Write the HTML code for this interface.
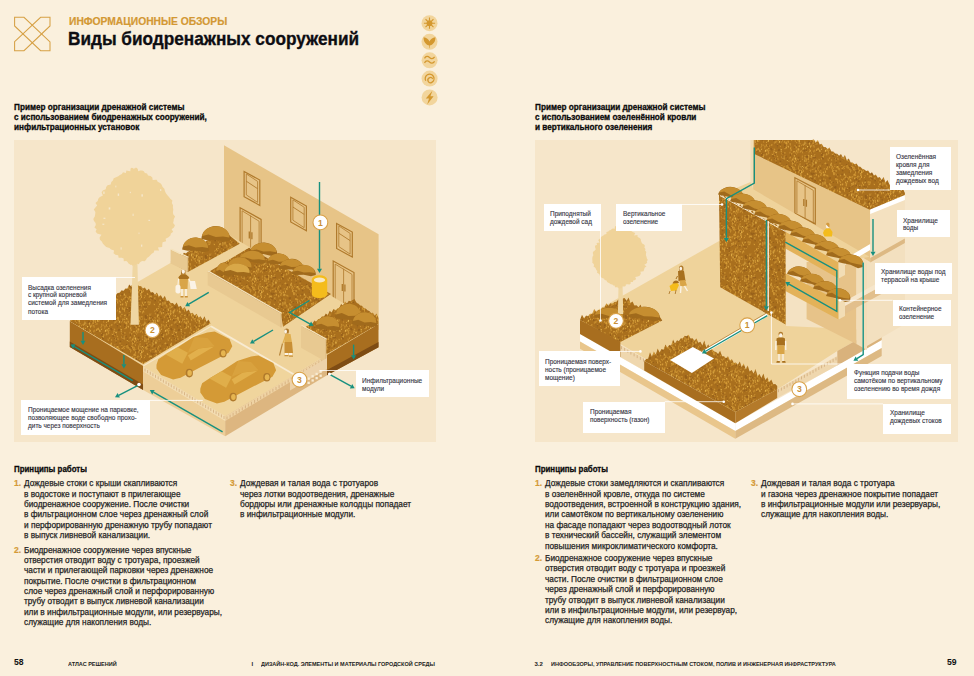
<!DOCTYPE html>
<html><head><meta charset="utf-8">
<style>
html,body{margin:0;padding:0;}
body{width:974px;height:676px;overflow:hidden;background:#FAF0DD;position:relative;font-family:"Liberation Sans",sans-serif;}
.t{position:absolute;white-space:nowrap;transform-origin:0 0;}
.box{position:absolute;background:#F6E6CA;}
</style></head><body>
<div class="box" style="left:13.5px;top:140px;width:422.5px;height:301.5px"></div>
<div class="box" style="left:535px;top:140px;width:423px;height:301.5px"></div>
<svg style="position:absolute;left:0;top:0" width="974" height="676" viewBox="0 0 974 676">
<defs>
<pattern id="grass" patternUnits="userSpaceOnUse" width="60" height="60"><rect width="60" height="60" fill="#A96F1D"/><path d="M34.2,37.9l-0.3,-2.1" stroke="#DCA33A" stroke-width="1.0"/><path d="M54.5,11.2l0.1,-1.8" stroke="#D09632" stroke-width="1.1"/><path d="M31.7,26.7l0.2,-2.3" stroke="#D09632" stroke-width="0.8"/><path d="M29.8,3.2l0.3,-1.8" stroke="#D09632" stroke-width="1.0"/><path d="M55.7,33.3l-0.5,-1.9" stroke="#D09632" stroke-width="1.1"/><path d="M17.1,12.8l0.3,-2.2" stroke="#D09632" stroke-width="0.8"/><path d="M14.6,16.4l0.0,-0.8" stroke="#D09632" stroke-width="0.8"/><path d="M11.1,6.6l0.4,-0.9" stroke="#DCA33A" stroke-width="0.9"/><path d="M7.4,8.9l-0.2,-1.0" stroke="#D09632" stroke-width="0.7"/><path d="M12.2,11.6l-0.1,-1.8" stroke="#D09632" stroke-width="0.8"/><path d="M32.3,47.1l-0.5,-1.3" stroke="#D09632" stroke-width="0.8"/><path d="M46.8,6.7l-0.6,-2.2" stroke="#D09632" stroke-width="0.8"/><path d="M18.9,53.3l-0.4,-1.9" stroke="#D09632" stroke-width="0.9"/><path d="M2.0,5.2l0.3,-1.8" stroke="#D09632" stroke-width="0.8"/><path d="M62.0,5.2l0.3,-1.8" stroke="#D09632" stroke-width="0.8"/><path d="M30.4,15.6l0.6,-2.2" stroke="#D09632" stroke-width="0.6"/><path d="M23.8,48.2l-0.5,-1.3" stroke="#D09632" stroke-width="1.0"/><path d="M37.3,17.2l0.3,-1.8" stroke="#E9B94F" stroke-width="1.0"/><path d="M26.0,48.6l0.4,-2.3" stroke="#DCA33A" stroke-width="0.9"/><path d="M30.7,51.0l0.3,-1.8" stroke="#D09632" stroke-width="0.6"/><path d="M16.2,35.0l-0.4,-1.7" stroke="#D09632" stroke-width="1.1"/><path d="M4.3,55.6l0.1,-2.0" stroke="#E9B94F" stroke-width="0.9"/><path d="M0.4,56.3l0.5,-1.5" stroke="#DCA33A" stroke-width="0.7"/><path d="M60.4,56.3l0.5,-1.5" stroke="#DCA33A" stroke-width="0.7"/><path d="M2.4,1.2l0.3,-2.0" stroke="#D09632" stroke-width="0.7"/><path d="M2.4,61.2l0.3,-2.0" stroke="#D09632" stroke-width="0.7"/><path d="M62.4,1.2l0.3,-2.0" stroke="#D09632" stroke-width="0.7"/><path d="M62.4,61.2l0.3,-2.0" stroke="#D09632" stroke-width="0.7"/><path d="M22.0,48.0l0.4,-2.0" stroke="#E9B94F" stroke-width="1.0"/><path d="M50.1,1.0l0.4,-0.8" stroke="#DCA33A" stroke-width="0.8"/><path d="M50.1,61.0l0.4,-0.8" stroke="#DCA33A" stroke-width="0.8"/><path d="M7.7,19.9l-0.0,-1.3" stroke="#D09632" stroke-width="0.7"/><path d="M4.9,12.2l-0.5,-1.0" stroke="#D09632" stroke-width="0.7"/><path d="M48.0,32.7l0.2,-1.5" stroke="#D09632" stroke-width="0.6"/><path d="M4.7,20.2l-0.3,-1.4" stroke="#D09632" stroke-width="1.0"/><path d="M0.5,26.9l-0.3,-1.4" stroke="#DCA33A" stroke-width="0.7"/><path d="M60.5,26.9l-0.3,-1.4" stroke="#DCA33A" stroke-width="0.7"/><path d="M2.5,9.6l-0.2,-2.4" stroke="#D09632" stroke-width="1.1"/><path d="M62.5,9.6l-0.2,-2.4" stroke="#D09632" stroke-width="1.1"/><path d="M38.7,57.4l0.4,-1.3" stroke="#D09632" stroke-width="0.7"/><path d="M38.7,-2.6l0.4,-1.3" stroke="#D09632" stroke-width="0.7"/><path d="M47.7,31.0l-0.1,-2.1" stroke="#DCA33A" stroke-width="0.6"/><path d="M37.4,11.3l0.5,-1.1" stroke="#D09632" stroke-width="1.0"/><path d="M17.0,43.8l0.2,-2.3" stroke="#D09632" stroke-width="0.9"/><path d="M57.1,48.1l-0.1,-1.5" stroke="#D09632" stroke-width="1.0"/><path d="M-2.9,48.1l-0.1,-1.5" stroke="#D09632" stroke-width="1.0"/><path d="M9.5,13.1l-0.4,-0.9" stroke="#D09632" stroke-width="0.8"/><path d="M10.5,25.5l-0.5,-2.0" stroke="#D09632" stroke-width="0.9"/><path d="M54.2,55.1l-0.5,-1.7" stroke="#DCA33A" stroke-width="1.1"/><path d="M54.0,31.9l0.1,-1.4" stroke="#DCA33A" stroke-width="1.1"/><path d="M29.6,30.4l0.0,-1.3" stroke="#D09632" stroke-width="0.7"/><path d="M27.5,54.9l-0.3,-1.2" stroke="#D09632" stroke-width="1.0"/><path d="M18.2,49.6l0.5,-2.3" stroke="#DCA33A" stroke-width="0.7"/><path d="M27.0,49.4l0.1,-1.2" stroke="#DCA33A" stroke-width="1.1"/><path d="M21.0,7.2l-0.2,-0.8" stroke="#D09632" stroke-width="0.7"/><path d="M49.4,39.0l0.4,-1.8" stroke="#D09632" stroke-width="0.9"/><path d="M21.0,17.4l0.3,-1.0" stroke="#E9B94F" stroke-width="0.6"/><path d="M43.0,3.7l-0.2,-1.5" stroke="#E9B94F" stroke-width="0.8"/><path d="M30.6,21.4l-0.3,-1.2" stroke="#D09632" stroke-width="0.6"/><path d="M33.0,44.3l-0.3,-1.9" stroke="#E9B94F" stroke-width="0.6"/><path d="M25.9,20.0l0.6,-1.1" stroke="#DCA33A" stroke-width="0.7"/><path d="M10.6,48.6l-0.2,-1.4" stroke="#D09632" stroke-width="0.8"/><path d="M35.3,18.7l-0.5,-1.7" stroke="#D09632" stroke-width="0.9"/><path d="M19.2,52.1l0.2,-2.3" stroke="#D09632" stroke-width="0.7"/><path d="M37.5,17.3l0.0,-1.1" stroke="#D09632" stroke-width="0.9"/><path d="M45.6,0.7l-0.4,-1.8" stroke="#D09632" stroke-width="1.0"/><path d="M45.6,60.7l-0.4,-1.8" stroke="#D09632" stroke-width="1.0"/><path d="M57.9,18.8l-0.2,-2.0" stroke="#E9B94F" stroke-width="0.7"/><path d="M-2.1,18.8l-0.2,-2.0" stroke="#E9B94F" stroke-width="0.7"/><path d="M39.9,5.0l0.3,-1.7" stroke="#E9B94F" stroke-width="1.0"/><path d="M33.0,24.0l0.2,-1.8" stroke="#DCA33A" stroke-width="1.0"/><path d="M44.7,56.2l0.5,-1.8" stroke="#DCA33A" stroke-width="0.8"/><path d="M48.1,21.9l0.5,-2.1" stroke="#E9B94F" stroke-width="1.1"/><path d="M41.5,29.9l0.2,-1.3" stroke="#E9B94F" stroke-width="0.8"/><path d="M12.6,45.4l-0.4,-2.3" stroke="#D09632" stroke-width="0.7"/><path d="M33.1,49.9l0.3,-1.2" stroke="#D09632" stroke-width="0.7"/><path d="M32.8,45.5l0.2,-1.6" stroke="#D09632" stroke-width="0.8"/><path d="M31.3,0.1l-0.2,-1.1" stroke="#DCA33A" stroke-width="0.7"/><path d="M31.3,60.1l-0.2,-1.1" stroke="#DCA33A" stroke-width="0.7"/><path d="M14.6,59.4l-0.1,-1.8" stroke="#DCA33A" stroke-width="1.0"/><path d="M14.6,-0.6l-0.1,-1.8" stroke="#DCA33A" stroke-width="1.0"/><path d="M49.0,33.5l-0.5,-1.8" stroke="#D09632" stroke-width="0.8"/><path d="M15.4,21.9l-0.3,-2.2" stroke="#D09632" stroke-width="0.8"/><path d="M10.2,1.4l0.1,-2.3" stroke="#D09632" stroke-width="0.9"/><path d="M10.2,61.4l0.1,-2.3" stroke="#D09632" stroke-width="0.9"/><path d="M10.4,29.0l0.6,-2.3" stroke="#D09632" stroke-width="1.0"/><path d="M29.6,4.8l0.4,-1.4" stroke="#DCA33A" stroke-width="1.0"/><path d="M59.3,22.8l0.4,-1.9" stroke="#E9B94F" stroke-width="1.0"/><path d="M-0.7,22.8l0.4,-1.9" stroke="#E9B94F" stroke-width="1.0"/><path d="M52.4,20.4l0.1,-1.4" stroke="#D09632" stroke-width="0.8"/><path d="M22.3,12.3l0.2,-1.1" stroke="#D09632" stroke-width="0.6"/><path d="M47.9,56.8l0.2,-1.2" stroke="#D09632" stroke-width="0.7"/><path d="M9.9,38.5l0.4,-1.7" stroke="#DCA33A" stroke-width="1.0"/><path d="M52.5,35.0l-0.4,-1.2" stroke="#DCA33A" stroke-width="1.0"/><path d="M38.7,57.1l-0.1,-2.1" stroke="#D09632" stroke-width="0.8"/><path d="M38.7,-2.9l-0.1,-2.1" stroke="#D09632" stroke-width="0.8"/><path d="M55.0,53.3l-0.6,-0.8" stroke="#D09632" stroke-width="1.1"/><path d="M52.7,50.2l-0.4,-0.9" stroke="#DCA33A" stroke-width="0.8"/><path d="M19.2,57.6l-0.0,-0.8" stroke="#E9B94F" stroke-width="1.0"/><path d="M19.2,-2.4l-0.0,-0.8" stroke="#E9B94F" stroke-width="1.0"/><path d="M53.3,16.3l0.6,-1.7" stroke="#D09632" stroke-width="0.8"/><path d="M59.5,9.6l0.3,-2.0" stroke="#D09632" stroke-width="1.1"/><path d="M-0.5,9.6l0.3,-2.0" stroke="#D09632" stroke-width="1.1"/><path d="M46.8,7.9l0.5,-2.4" stroke="#D09632" stroke-width="0.6"/><path d="M47.1,35.1l-0.5,-2.0" stroke="#D09632" stroke-width="1.0"/><path d="M43.7,10.4l-0.1,-1.3" stroke="#D09632" stroke-width="1.1"/><path d="M56.0,0.1l-0.4,-1.8" stroke="#DCA33A" stroke-width="0.9"/><path d="M56.0,60.1l-0.4,-1.8" stroke="#DCA33A" stroke-width="0.9"/><path d="M53.9,54.5l-0.4,-2.3" stroke="#D09632" stroke-width="1.0"/><path d="M27.9,46.6l-0.1,-1.5" stroke="#DCA33A" stroke-width="0.8"/><path d="M29.8,23.9l-0.5,-1.9" stroke="#D09632" stroke-width="0.9"/><path d="M41.1,54.1l0.6,-1.4" stroke="#DCA33A" stroke-width="0.8"/><path d="M33.7,21.7l-0.6,-1.8" stroke="#E9B94F" stroke-width="0.8"/><path d="M0.7,5.2l-0.3,-1.3" stroke="#DCA33A" stroke-width="0.8"/><path d="M60.7,5.2l-0.3,-1.3" stroke="#DCA33A" stroke-width="0.8"/><path d="M55.0,16.7l0.5,-1.4" stroke="#DCA33A" stroke-width="1.1"/><path d="M6.9,4.1l-0.2,-1.9" stroke="#D09632" stroke-width="0.6"/><path d="M19.4,18.6l0.6,-1.9" stroke="#D09632" stroke-width="1.0"/><path d="M35.7,52.0l0.5,-2.4" stroke="#D09632" stroke-width="1.0"/><path d="M46.4,22.8l0.3,-0.9" stroke="#DCA33A" stroke-width="1.0"/><path d="M45.4,44.1l0.5,-0.9" stroke="#E9B94F" stroke-width="0.8"/><path d="M47.1,56.3l-0.2,-1.5" stroke="#DCA33A" stroke-width="1.0"/><path d="M24.8,41.9l-0.2,-2.3" stroke="#E9B94F" stroke-width="0.7"/><path d="M35.6,50.0l-0.3,-1.4" stroke="#D09632" stroke-width="0.8"/><path d="M23.4,24.8l0.1,-1.2" stroke="#D09632" stroke-width="0.7"/><path d="M27.9,54.6l-0.4,-1.2" stroke="#DCA33A" stroke-width="0.9"/><path d="M7.2,58.4l0.2,-1.1" stroke="#D09632" stroke-width="1.0"/><path d="M7.2,-1.6l0.2,-1.1" stroke="#D09632" stroke-width="1.0"/><path d="M22.2,37.7l0.2,-2.1" stroke="#D09632" stroke-width="0.8"/><path d="M35.0,31.5l-0.5,-1.9" stroke="#D09632" stroke-width="0.6"/><path d="M48.3,10.5l-0.1,-2.0" stroke="#E9B94F" stroke-width="0.9"/><path d="M50.8,6.0l-0.1,-2.2" stroke="#D09632" stroke-width="1.0"/><path d="M14.0,39.2l-0.1,-0.8" stroke="#D09632" stroke-width="0.8"/><path d="M49.6,17.3l-0.4,-2.3" stroke="#E9B94F" stroke-width="0.7"/><path d="M40.7,55.8l0.4,-1.9" stroke="#D09632" stroke-width="1.1"/><path d="M2.5,40.6l0.3,-2.1" stroke="#DCA33A" stroke-width="0.9"/><path d="M62.5,40.6l0.3,-2.1" stroke="#DCA33A" stroke-width="0.9"/><path d="M59.2,13.5l0.4,-2.3" stroke="#D09632" stroke-width="0.8"/><path d="M-0.8,13.5l0.4,-2.3" stroke="#D09632" stroke-width="0.8"/><path d="M26.1,8.9l0.4,-2.2" stroke="#DCA33A" stroke-width="0.6"/><path d="M43.8,55.7l0.5,-1.9" stroke="#E9B94F" stroke-width="1.0"/><path d="M44.5,18.1l-0.2,-2.0" stroke="#D09632" stroke-width="0.8"/><path d="M18.5,2.3l-0.3,-1.0" stroke="#D09632" stroke-width="0.6"/><path d="M18.5,62.3l-0.3,-1.0" stroke="#D09632" stroke-width="0.6"/><path d="M44.1,49.5l0.3,-1.3" stroke="#DCA33A" stroke-width="0.6"/><path d="M34.4,35.4l0.5,-1.1" stroke="#DCA33A" stroke-width="0.9"/><path d="M32.2,50.0l0.5,-0.9" stroke="#D09632" stroke-width="0.8"/><path d="M15.6,32.5l0.4,-1.0" stroke="#D09632" stroke-width="1.0"/><path d="M57.2,47.6l-0.3,-1.0" stroke="#DCA33A" stroke-width="1.1"/><path d="M-2.8,47.6l-0.3,-1.0" stroke="#DCA33A" stroke-width="1.1"/><path d="M37.5,21.6l-0.0,-2.1" stroke="#DCA33A" stroke-width="0.8"/><path d="M57.1,36.8l0.2,-1.0" stroke="#D09632" stroke-width="0.7"/><path d="M-2.9,36.8l0.2,-1.0" stroke="#D09632" stroke-width="0.7"/><path d="M29.8,16.0l-0.3,-2.3" stroke="#D09632" stroke-width="0.6"/><path d="M18.2,39.1l0.2,-1.6" stroke="#D09632" stroke-width="0.9"/><path d="M15.4,55.4l-0.6,-1.8" stroke="#DCA33A" stroke-width="0.7"/><path d="M25.0,38.9l-0.4,-2.2" stroke="#D09632" stroke-width="0.9"/><path d="M40.9,27.8l0.6,-1.9" stroke="#D09632" stroke-width="0.8"/><path d="M47.6,48.7l-0.2,-2.3" stroke="#D09632" stroke-width="0.9"/><path d="M49.7,47.9l-0.4,-1.7" stroke="#DCA33A" stroke-width="0.7"/><path d="M1.5,0.1l-0.2,-1.3" stroke="#D09632" stroke-width="0.8"/><path d="M1.5,60.1l-0.2,-1.3" stroke="#D09632" stroke-width="0.8"/><path d="M61.5,0.1l-0.2,-1.3" stroke="#D09632" stroke-width="0.8"/><path d="M61.5,60.1l-0.2,-1.3" stroke="#D09632" stroke-width="0.8"/><path d="M30.7,38.0l0.4,-1.1" stroke="#DCA33A" stroke-width="1.0"/><path d="M33.8,32.4l0.2,-2.1" stroke="#D09632" stroke-width="1.0"/><path d="M11.5,16.5l-0.1,-2.1" stroke="#D09632" stroke-width="1.0"/><path d="M35.8,1.1l-0.2,-1.4" stroke="#D09632" stroke-width="1.0"/><path d="M35.8,61.1l-0.2,-1.4" stroke="#D09632" stroke-width="1.0"/><path d="M13.7,5.0l0.1,-2.2" stroke="#D09632" stroke-width="1.0"/><path d="M40.9,51.1l-0.2,-1.3" stroke="#D09632" stroke-width="0.8"/><path d="M34.6,11.9l0.5,-1.7" stroke="#DCA33A" stroke-width="0.6"/><path d="M28.6,37.8l0.6,-0.9" stroke="#DCA33A" stroke-width="0.9"/><path d="M31.0,38.2l0.1,-1.4" stroke="#D09632" stroke-width="0.8"/><path d="M28.2,3.5l-0.3,-1.8" stroke="#D09632" stroke-width="0.7"/><path d="M45.0,27.3l0.0,-1.7" stroke="#DCA33A" stroke-width="0.8"/><path d="M15.6,46.0l-0.4,-2.0" stroke="#D09632" stroke-width="0.8"/><path d="M47.7,18.6l-0.1,-1.2" stroke="#D09632" stroke-width="0.9"/><path d="M19.1,24.0l0.3,-2.4" stroke="#D09632" stroke-width="0.9"/><path d="M9.1,58.8l0.5,-1.2" stroke="#D09632" stroke-width="0.7"/><path d="M9.1,-1.2l0.5,-1.2" stroke="#D09632" stroke-width="0.7"/><path d="M20.5,19.6l-0.1,-1.4" stroke="#D09632" stroke-width="0.7"/><path d="M37.7,41.5l-0.4,-1.2" stroke="#D09632" stroke-width="0.7"/><path d="M31.0,37.5l0.4,-2.3" stroke="#D09632" stroke-width="0.7"/><path d="M11.8,4.1l0.1,-0.8" stroke="#E9B94F" stroke-width="1.1"/><path d="M1.5,15.0l0.4,-1.4" stroke="#D09632" stroke-width="0.8"/><path d="M61.5,15.0l0.4,-1.4" stroke="#D09632" stroke-width="0.8"/><path d="M52.4,46.9l0.0,-1.1" stroke="#DCA33A" stroke-width="0.7"/><path d="M51.7,40.7l-0.2,-1.4" stroke="#D09632" stroke-width="1.1"/><path d="M11.5,35.2l0.1,-1.9" stroke="#DCA33A" stroke-width="0.7"/><path d="M40.0,12.7l0.3,-1.9" stroke="#D09632" stroke-width="1.0"/><path d="M40.6,0.9l-0.3,-1.1" stroke="#DCA33A" stroke-width="1.0"/><path d="M40.6,60.9l-0.3,-1.1" stroke="#DCA33A" stroke-width="1.0"/><path d="M13.8,55.4l-0.1,-1.1" stroke="#DCA33A" stroke-width="0.7"/><path d="M51.5,2.7l0.4,-1.3" stroke="#DCA33A" stroke-width="0.7"/><path d="M51.5,62.7l0.4,-1.3" stroke="#DCA33A" stroke-width="0.7"/><path d="M29.4,31.7l0.5,-0.8" stroke="#D09632" stroke-width="1.1"/><path d="M41.7,39.4l-0.3,-1.4" stroke="#D09632" stroke-width="1.1"/><path d="M5.7,28.7l0.6,-1.8" stroke="#DCA33A" stroke-width="1.1"/><path d="M42.0,26.1l-0.6,-2.3" stroke="#DCA33A" stroke-width="0.6"/><path d="M5.4,3.0l0.4,-1.5" stroke="#DCA33A" stroke-width="0.9"/><path d="M22.2,17.5l-0.2,-1.5" stroke="#D09632" stroke-width="0.9"/><path d="M5.5,55.8l0.4,-1.0" stroke="#D09632" stroke-width="0.6"/><path d="M57.6,19.7l0.3,-1.4" stroke="#D09632" stroke-width="0.9"/><path d="M-2.4,19.7l0.3,-1.4" stroke="#D09632" stroke-width="0.9"/><path d="M52.1,29.0l-0.4,-0.8" stroke="#DCA33A" stroke-width="0.7"/><path d="M42.4,38.4l0.2,-2.0" stroke="#D09632" stroke-width="1.0"/><path d="M43.3,13.7l0.1,-0.9" stroke="#D09632" stroke-width="0.9"/><path d="M17.5,59.2l-0.1,-1.8" stroke="#D09632" stroke-width="0.7"/><path d="M17.5,-0.8l-0.1,-1.8" stroke="#D09632" stroke-width="0.7"/><path d="M16.4,41.1l0.4,-1.5" stroke="#D09632" stroke-width="1.0"/><path d="M58.2,40.1l-0.3,-2.1" stroke="#D09632" stroke-width="0.8"/><path d="M-1.8,40.1l-0.3,-2.1" stroke="#D09632" stroke-width="0.8"/><path d="M24.1,58.3l0.6,-1.3" stroke="#DCA33A" stroke-width="0.7"/><path d="M24.1,-1.7l0.6,-1.3" stroke="#DCA33A" stroke-width="0.7"/><path d="M26.0,25.8l0.5,-1.5" stroke="#DCA33A" stroke-width="0.8"/><path d="M35.0,20.6l-0.1,-1.0" stroke="#DCA33A" stroke-width="1.0"/><path d="M2.0,38.2l0.2,-2.0" stroke="#E9B94F" stroke-width="0.8"/><path d="M62.0,38.2l0.2,-2.0" stroke="#E9B94F" stroke-width="0.8"/><path d="M10.0,24.1l0.4,-0.8" stroke="#D09632" stroke-width="0.9"/><path d="M30.2,31.6l0.3,-1.4" stroke="#DCA33A" stroke-width="1.1"/><path d="M34.0,28.0l0.6,-1.7" stroke="#D09632" stroke-width="0.6"/><path d="M30.2,51.6l-0.2,-1.0" stroke="#DCA33A" stroke-width="0.9"/><path d="M19.9,45.4l0.2,-2.1" stroke="#DCA33A" stroke-width="0.7"/><path d="M24.8,24.7l-0.1,-1.3" stroke="#E9B94F" stroke-width="1.0"/><path d="M11.4,41.6l-0.3,-1.8" stroke="#D09632" stroke-width="0.7"/><path d="M27.1,44.3l-0.2,-1.4" stroke="#D09632" stroke-width="1.1"/><path d="M15.0,26.5l-0.0,-1.2" stroke="#DCA33A" stroke-width="1.0"/><path d="M34.8,55.8l0.2,-1.3" stroke="#D09632" stroke-width="0.7"/><path d="M23.8,12.4l-0.4,-1.8" stroke="#DCA33A" stroke-width="1.0"/><path d="M1.3,22.7l0.2,-1.8" stroke="#DCA33A" stroke-width="0.6"/><path d="M61.3,22.7l0.2,-1.8" stroke="#DCA33A" stroke-width="0.6"/><path d="M44.8,8.2l0.3,-0.8" stroke="#D09632" stroke-width="0.7"/><path d="M8.5,22.8l-0.6,-1.9" stroke="#D09632" stroke-width="0.8"/><path d="M52.3,25.5l0.1,-1.1" stroke="#D09632" stroke-width="0.6"/><path d="M53.8,33.8l-0.3,-1.4" stroke="#D09632" stroke-width="0.8"/><path d="M25.2,56.6l-0.1,-1.6" stroke="#D09632" stroke-width="0.7"/><path d="M30.1,23.4l-0.2,-1.1" stroke="#DCA33A" stroke-width="0.6"/><path d="M36.4,55.6l-0.1,-1.7" stroke="#DCA33A" stroke-width="1.0"/><path d="M20.2,0.1l-0.1,-2.3" stroke="#D09632" stroke-width="0.6"/><path d="M20.2,60.1l-0.1,-2.3" stroke="#D09632" stroke-width="0.6"/><path d="M13.1,44.0l-0.4,-1.8" stroke="#DCA33A" stroke-width="1.0"/><path d="M5.5,37.0l-0.1,-1.3" stroke="#D09632" stroke-width="0.9"/><path d="M5.4,57.6l0.6,-1.0" stroke="#D09632" stroke-width="0.8"/><path d="M5.4,-2.4l0.6,-1.0" stroke="#D09632" stroke-width="0.8"/><path d="M16.4,59.5l0.6,-1.3" stroke="#D09632" stroke-width="0.7"/><path d="M16.4,-0.5l0.6,-1.3" stroke="#D09632" stroke-width="0.7"/><path d="M22.7,3.9l-0.4,-1.6" stroke="#D09632" stroke-width="0.7"/><path d="M19.4,59.5l0.2,-1.7" stroke="#DCA33A" stroke-width="0.8"/><path d="M19.4,-0.5l0.2,-1.7" stroke="#DCA33A" stroke-width="0.8"/><path d="M39.6,0.9l0.4,-1.6" stroke="#D09632" stroke-width="0.7"/><path d="M39.6,60.9l0.4,-1.6" stroke="#D09632" stroke-width="0.7"/><path d="M55.0,47.1l-0.5,-1.3" stroke="#D09632" stroke-width="0.8"/><path d="M15.7,51.2l0.4,-1.7" stroke="#D09632" stroke-width="1.1"/><path d="M38.2,30.0l0.4,-1.6" stroke="#DCA33A" stroke-width="0.9"/><path d="M10.0,52.9l0.6,-1.9" stroke="#D09632" stroke-width="0.7"/><path d="M3.2,20.0l-0.3,-1.6" stroke="#DCA33A" stroke-width="0.7"/><path d="M55.1,9.2l-0.5,-1.1" stroke="#DCA33A" stroke-width="1.0"/><path d="M41.4,14.4l0.2,-2.1" stroke="#D09632" stroke-width="1.1"/><path d="M45.7,16.2l-0.6,-1.7" stroke="#D09632" stroke-width="0.6"/><path d="M49.1,27.1l0.5,-1.8" stroke="#D09632" stroke-width="0.7"/><path d="M15.8,56.1l-0.5,-1.3" stroke="#D09632" stroke-width="0.8"/><path d="M53.3,13.5l-0.2,-2.0" stroke="#E9B94F" stroke-width="0.9"/><path d="M14.3,19.6l-0.1,-1.7" stroke="#D09632" stroke-width="1.1"/><path d="M2.3,21.5l0.5,-2.0" stroke="#DCA33A" stroke-width="0.8"/><path d="M62.3,21.5l0.5,-2.0" stroke="#DCA33A" stroke-width="0.8"/><path d="M21.6,53.4l0.5,-1.7" stroke="#D09632" stroke-width="1.0"/><path d="M43.7,59.7l0.1,-1.2" stroke="#DCA33A" stroke-width="0.8"/><path d="M43.7,-0.3l0.1,-1.2" stroke="#DCA33A" stroke-width="0.8"/><path d="M7.5,41.1l-0.4,-1.1" stroke="#E9B94F" stroke-width="0.8"/><path d="M57.6,56.5l-0.3,-1.0" stroke="#DCA33A" stroke-width="0.7"/><path d="M-2.4,56.5l-0.3,-1.0" stroke="#DCA33A" stroke-width="0.7"/><path d="M6.1,5.6l0.5,-2.2" stroke="#DCA33A" stroke-width="0.8"/><path d="M14.3,32.0l-0.3,-0.9" stroke="#E9B94F" stroke-width="1.1"/><path d="M22.4,13.5l0.5,-1.8" stroke="#D09632" stroke-width="0.9"/><path d="M39.9,42.9l-0.2,-1.3" stroke="#D09632" stroke-width="0.8"/><path d="M59.4,11.6l0.1,-0.8" stroke="#E9B94F" stroke-width="1.1"/><path d="M-0.6,11.6l0.1,-0.8" stroke="#E9B94F" stroke-width="1.1"/><path d="M8.8,59.9l-0.3,-2.3" stroke="#D09632" stroke-width="0.7"/><path d="M8.8,-0.1l-0.3,-2.3" stroke="#D09632" stroke-width="0.7"/><path d="M29.0,33.3l-0.0,-1.1" stroke="#D09632" stroke-width="0.7"/><path d="M39.1,7.4l-0.4,-1.5" stroke="#D09632" stroke-width="0.9"/><path d="M48.5,31.4l-0.4,-1.0" stroke="#DCA33A" stroke-width="0.9"/><path d="M16.6,23.2l0.1,-1.0" stroke="#D09632" stroke-width="1.0"/><path d="M11.8,21.1l-0.5,-2.3" stroke="#D09632" stroke-width="0.9"/><path d="M37.9,49.7l-0.1,-2.1" stroke="#DCA33A" stroke-width="0.7"/><path d="M47.2,49.9l0.3,-0.8" stroke="#D09632" stroke-width="0.7"/><path d="M8.7,16.1l0.4,-2.1" stroke="#DCA33A" stroke-width="0.8"/><path d="M16.5,12.6l-0.1,-0.9" stroke="#DCA33A" stroke-width="1.0"/><path d="M45.3,52.8l0.3,-1.7" stroke="#DCA33A" stroke-width="0.9"/><path d="M46.4,5.8l-0.3,-0.9" stroke="#D09632" stroke-width="0.8"/><path d="M4.2,39.5l-0.2,-1.8" stroke="#E9B94F" stroke-width="0.7"/><path d="M20.1,58.9l-0.4,-1.2" stroke="#D09632" stroke-width="0.8"/><path d="M20.1,-1.1l-0.4,-1.2" stroke="#D09632" stroke-width="0.8"/><path d="M35.3,21.9l0.2,-1.7" stroke="#D09632" stroke-width="1.1"/><path d="M44.9,4.5l0.3,-2.3" stroke="#DCA33A" stroke-width="1.0"/><path d="M51.0,14.3l0.2,-1.4" stroke="#D09632" stroke-width="1.0"/><path d="M26.1,41.9l-0.2,-1.4" stroke="#DCA33A" stroke-width="0.8"/><path d="M21.9,26.2l-0.2,-1.4" stroke="#D09632" stroke-width="0.9"/><path d="M8.4,22.4l-0.2,-1.8" stroke="#DCA33A" stroke-width="0.7"/><path d="M27.6,27.3l-0.0,-1.3" stroke="#E9B94F" stroke-width="1.1"/><path d="M6.9,48.1l0.0,-1.8" stroke="#D09632" stroke-width="0.7"/><path d="M26.5,8.2l0.5,-2.2" stroke="#E9B94F" stroke-width="0.6"/><path d="M9.7,57.9l-0.3,-1.7" stroke="#DCA33A" stroke-width="0.9"/><path d="M9.7,-2.1l-0.3,-1.7" stroke="#DCA33A" stroke-width="0.9"/><path d="M43.5,52.8l-0.3,-1.2" stroke="#DCA33A" stroke-width="1.1"/><path d="M32.0,36.6l-0.6,-1.6" stroke="#E9B94F" stroke-width="0.9"/><path d="M11.9,5.2l0.4,-1.5" stroke="#DCA33A" stroke-width="1.0"/><path d="M57.5,39.7l-0.4,-1.2" stroke="#D09632" stroke-width="0.8"/><path d="M-2.5,39.7l-0.4,-1.2" stroke="#D09632" stroke-width="0.8"/><path d="M12.9,57.1l-0.4,-0.9" stroke="#D09632" stroke-width="0.9"/><path d="M12.9,-2.9l-0.4,-0.9" stroke="#D09632" stroke-width="0.9"/><path d="M43.2,13.1l0.3,-1.1" stroke="#E9B94F" stroke-width="0.8"/><path d="M54.3,35.9l-0.3,-1.6" stroke="#D09632" stroke-width="0.8"/><path d="M55.0,39.9l0.5,-2.0" stroke="#DCA33A" stroke-width="0.8"/><path d="M11.0,1.3l-0.4,-1.9" stroke="#DCA33A" stroke-width="1.0"/><path d="M11.0,61.3l-0.4,-1.9" stroke="#DCA33A" stroke-width="1.0"/><path d="M9.6,50.0l0.0,-1.3" stroke="#DCA33A" stroke-width="0.6"/><path d="M13.6,15.3l0.5,-2.1" stroke="#D09632" stroke-width="0.7"/><path d="M49.5,17.9l0.6,-1.8" stroke="#DCA33A" stroke-width="0.9"/><path d="M36.6,31.0l-0.1,-1.7" stroke="#DCA33A" stroke-width="1.1"/><path d="M1.7,13.9l0.4,-1.9" stroke="#D09632" stroke-width="0.8"/><path d="M61.7,13.9l0.4,-1.9" stroke="#D09632" stroke-width="0.8"/><path d="M14.2,38.3l-0.3,-0.9" stroke="#DCA33A" stroke-width="0.9"/><path d="M36.1,10.5l0.4,-0.9" stroke="#D09632" stroke-width="0.9"/><path d="M35.3,24.8l0.1,-1.3" stroke="#D09632" stroke-width="0.6"/><path d="M20.4,42.0l-0.3,-1.8" stroke="#D09632" stroke-width="0.8"/><path d="M4.8,9.1l0.2,-2.1" stroke="#D09632" stroke-width="0.8"/><path d="M13.1,3.3l-0.2,-1.2" stroke="#D09632" stroke-width="0.6"/><path d="M47.4,26.8l0.2,-0.8" stroke="#D09632" stroke-width="0.9"/><path d="M26.7,31.7l0.4,-1.4" stroke="#D09632" stroke-width="0.7"/><path d="M33.0,41.9l0.0,-1.2" stroke="#DCA33A" stroke-width="0.7"/><path d="M50.7,20.1l-0.3,-1.6" stroke="#DCA33A" stroke-width="0.9"/><path d="M24.7,20.4l-0.2,-2.0" stroke="#D09632" stroke-width="0.6"/><path d="M52.3,52.0l0.6,-2.1" stroke="#D09632" stroke-width="1.1"/><path d="M37.5,15.7l-0.2,-1.4" stroke="#D09632" stroke-width="0.7"/><path d="M20.7,56.1l-0.0,-0.9" stroke="#DCA33A" stroke-width="1.0"/><path d="M2.1,49.0l0.2,-1.3" stroke="#DCA33A" stroke-width="1.0"/><path d="M62.1,49.0l0.2,-1.3" stroke="#DCA33A" stroke-width="1.0"/><path d="M55.0,45.2l-0.2,-1.0" stroke="#D09632" stroke-width="0.6"/><path d="M15.0,12.7l0.1,-2.4" stroke="#DCA33A" stroke-width="1.1"/><path d="M51.6,44.0l-0.2,-1.4" stroke="#D09632" stroke-width="1.0"/><path d="M18.0,30.6l-0.5,-2.1" stroke="#DCA33A" stroke-width="0.6"/><path d="M15.3,40.3l0.6,-1.9" stroke="#DCA33A" stroke-width="1.0"/><path d="M47.6,13.7l-0.6,-2.4" stroke="#DCA33A" stroke-width="0.8"/><path d="M14.2,19.5l0.5,-2.0" stroke="#D09632" stroke-width="1.0"/><path d="M19.8,51.6l0.2,-2.3" stroke="#D09632" stroke-width="0.7"/><path d="M8.2,48.7l-0.3,-2.1" stroke="#D09632" stroke-width="1.1"/><path d="M49.6,30.6l0.4,-0.8" stroke="#D09632" stroke-width="0.9"/><path d="M11.1,51.2l-0.6,-1.8" stroke="#DCA33A" stroke-width="0.7"/><path d="M46.2,15.5l0.2,-1.7" stroke="#D09632" stroke-width="0.7"/><path d="M22.6,3.8l-0.2,-2.1" stroke="#D09632" stroke-width="0.8"/><path d="M26.2,39.9l-0.5,-1.5" stroke="#D09632" stroke-width="1.1"/><path d="M35.2,23.3l0.3,-1.2" stroke="#DCA33A" stroke-width="0.9"/><path d="M12.4,18.4l-0.1,-2.2" stroke="#DCA33A" stroke-width="0.6"/><path d="M35.1,52.5l0.4,-2.2" stroke="#D09632" stroke-width="0.8"/><path d="M29.5,24.8l-0.1,-1.8" stroke="#E9B94F" stroke-width="1.1"/><path d="M26.4,40.8l0.6,-2.2" stroke="#D09632" stroke-width="0.8"/><path d="M0.6,2.8l-0.4,-1.6" stroke="#D09632" stroke-width="1.0"/><path d="M0.6,62.8l-0.4,-1.6" stroke="#D09632" stroke-width="1.0"/><path d="M60.6,2.8l-0.4,-1.6" stroke="#D09632" stroke-width="1.0"/><path d="M60.6,62.8l-0.4,-1.6" stroke="#D09632" stroke-width="1.0"/><path d="M18.7,30.5l-0.1,-2.3" stroke="#DCA33A" stroke-width="1.1"/><path d="M18.1,14.7l-0.0,-2.0" stroke="#D09632" stroke-width="0.8"/><path d="M39.2,21.3l-0.3,-1.9" stroke="#D09632" stroke-width="0.8"/><path d="M48.8,10.9l-0.5,-1.1" stroke="#DCA33A" stroke-width="1.0"/><path d="M15.9,59.1l-0.0,-1.9" stroke="#D09632" stroke-width="1.0"/><path d="M15.9,-0.9l-0.0,-1.9" stroke="#D09632" stroke-width="1.0"/><path d="M35.7,43.6l0.1,-1.1" stroke="#DCA33A" stroke-width="0.7"/><path d="M17.6,16.0l-0.2,-1.1" stroke="#D09632" stroke-width="0.6"/><path d="M26.0,24.2l-0.3,-1.8" stroke="#E9B94F" stroke-width="0.7"/><path d="M28.7,5.2l-0.2,-1.5" stroke="#D09632" stroke-width="0.7"/><path d="M22.6,39.9l-0.3,-1.3" stroke="#D09632" stroke-width="0.8"/><path d="M13.0,40.6l-0.3,-1.6" stroke="#DCA33A" stroke-width="1.1"/><path d="M30.5,27.5l0.1,-1.8" stroke="#E9B94F" stroke-width="0.9"/><path d="M3.9,37.9l-0.1,-1.8" stroke="#DCA33A" stroke-width="1.0"/><path d="M27.6,16.1l-0.1,-0.9" stroke="#DCA33A" stroke-width="0.6"/><path d="M55.9,35.3l0.0,-1.2" stroke="#DCA33A" stroke-width="0.9"/><path d="M21.6,50.9l0.6,-2.0" stroke="#D09632" stroke-width="0.9"/><path d="M6.1,20.0l0.5,-2.1" stroke="#DCA33A" stroke-width="0.7"/><path d="M18.3,40.1l-0.3,-2.3" stroke="#D09632" stroke-width="0.8"/><path d="M20.3,12.2l-0.3,-1.0" stroke="#E9B94F" stroke-width="1.0"/><path d="M48.5,34.3l-0.1,-1.7" stroke="#D09632" stroke-width="0.7"/><path d="M1.3,32.0l-0.1,-1.4" stroke="#E9B94F" stroke-width="0.6"/><path d="M61.3,32.0l-0.1,-1.4" stroke="#E9B94F" stroke-width="0.6"/><path d="M7.0,46.6l0.1,-1.5" stroke="#DCA33A" stroke-width="1.0"/><path d="M51.8,48.8l0.1,-1.9" stroke="#D09632" stroke-width="0.9"/><path d="M32.8,45.7l0.5,-1.0" stroke="#E9B94F" stroke-width="0.7"/><path d="M55.0,54.2l-0.2,-0.9" stroke="#D09632" stroke-width="1.0"/><path d="M49.9,8.8l0.3,-2.1" stroke="#D09632" stroke-width="1.1"/><path d="M19.6,6.7l0.2,-1.9" stroke="#E9B94F" stroke-width="0.7"/><path d="M11.6,15.7l0.4,-2.3" stroke="#E9B94F" stroke-width="1.0"/><path d="M58.2,48.9l0.3,-1.6" stroke="#D09632" stroke-width="1.0"/><path d="M-1.8,48.9l0.3,-1.6" stroke="#D09632" stroke-width="1.0"/><path d="M2.2,14.7l0.3,-1.1" stroke="#D09632" stroke-width="0.9"/><path d="M62.2,14.7l0.3,-1.1" stroke="#D09632" stroke-width="0.9"/><path d="M56.2,41.8l-0.4,-2.0" stroke="#D09632" stroke-width="0.6"/><path d="M28.3,2.5l0.0,-1.3" stroke="#DCA33A" stroke-width="0.7"/><path d="M28.3,62.5l0.0,-1.3" stroke="#DCA33A" stroke-width="0.7"/><path d="M45.4,31.7l0.3,-1.9" stroke="#E9B94F" stroke-width="1.0"/><path d="M57.5,47.8l0.4,-2.0" stroke="#D09632" stroke-width="0.8"/><path d="M-2.5,47.8l0.4,-2.0" stroke="#D09632" stroke-width="0.8"/><path d="M29.2,57.7l0.4,-2.2" stroke="#D09632" stroke-width="1.0"/><path d="M29.2,-2.3l0.4,-2.2" stroke="#D09632" stroke-width="1.0"/><path d="M41.3,34.3l0.5,-1.2" stroke="#D09632" stroke-width="0.8"/><path d="M39.3,40.2l-0.3,-1.4" stroke="#D09632" stroke-width="1.0"/><path d="M56.4,55.3l0.0,-1.5" stroke="#D09632" stroke-width="0.7"/><path d="M5.3,36.6l-0.4,-1.3" stroke="#D09632" stroke-width="0.8"/><path d="M4.7,58.4l0.1,-1.0" stroke="#E9B94F" stroke-width="0.6"/><path d="M4.7,-1.6l0.1,-1.0" stroke="#E9B94F" stroke-width="0.6"/><path d="M12.6,48.4l0.2,-2.2" stroke="#DCA33A" stroke-width="0.9"/><path d="M48.2,15.1l0.5,-2.1" stroke="#D09632" stroke-width="1.0"/><path d="M6.1,24.1l0.2,-2.4" stroke="#D09632" stroke-width="1.0"/><path d="M40.4,46.7l-0.4,-2.0" stroke="#D09632" stroke-width="0.8"/><path d="M0.9,17.3l-0.2,-1.9" stroke="#D09632" stroke-width="0.8"/><path d="M60.9,17.3l-0.2,-1.9" stroke="#D09632" stroke-width="0.8"/><path d="M50.5,13.4l0.3,-2.2" stroke="#D09632" stroke-width="0.9"/><path d="M28.2,37.2l0.2,-1.9" stroke="#D09632" stroke-width="1.0"/><path d="M14.2,32.2l0.5,-0.9" stroke="#D09632" stroke-width="0.6"/><path d="M5.5,4.1l0.5,-0.8" stroke="#D09632" stroke-width="0.9"/><path d="M56.9,0.3l-0.2,-1.9" stroke="#DCA33A" stroke-width="0.9"/><path d="M56.9,60.3l-0.2,-1.9" stroke="#DCA33A" stroke-width="0.9"/><path d="M51.1,46.2l-0.3,-2.4" stroke="#E9B94F" stroke-width="0.9"/><path d="M3.8,59.8l-0.2,-1.4" stroke="#D09632" stroke-width="1.0"/><path d="M3.8,-0.2l-0.2,-1.4" stroke="#D09632" stroke-width="1.0"/><path d="M29.6,25.6l-0.1,-2.3" stroke="#D09632" stroke-width="1.0"/><path d="M50.7,15.3l-0.5,-2.2" stroke="#DCA33A" stroke-width="0.9"/><path d="M34.2,39.8l-0.3,-1.7" stroke="#D09632" stroke-width="0.6"/><path d="M22.5,52.5l0.6,-1.2" stroke="#DCA33A" stroke-width="0.8"/><path d="M40.0,32.0l-0.3,-2.3" stroke="#E9B94F" stroke-width="0.9"/><path d="M38.1,50.9l0.5,-0.8" stroke="#D09632" stroke-width="0.8"/><path d="M10.6,12.0l0.5,-1.0" stroke="#DCA33A" stroke-width="0.8"/><path d="M55.5,23.1l-0.6,-1.9" stroke="#D09632" stroke-width="0.8"/><path d="M11.2,47.3l0.5,-1.4" stroke="#D09632" stroke-width="0.9"/><path d="M43.4,25.7l-0.3,-1.4" stroke="#D09632" stroke-width="0.7"/><path d="M38.7,46.3l0.5,-0.9" stroke="#D09632" stroke-width="0.6"/><path d="M15.9,3.3l0.2,-2.1" stroke="#D09632" stroke-width="0.7"/><path d="M9.7,33.4l0.5,-1.7" stroke="#DCA33A" stroke-width="0.6"/><path d="M32.1,33.8l-0.5,-1.4" stroke="#D09632" stroke-width="0.7"/><path d="M56.2,51.6l-0.2,-1.4" stroke="#E9B94F" stroke-width="0.9"/><path d="M54.3,29.7l-0.1,-1.3" stroke="#D09632" stroke-width="0.7"/><path d="M5.7,23.8l0.1,-2.0" stroke="#D09632" stroke-width="0.8"/><path d="M56.5,33.2l0.1,-2.0" stroke="#E9B94F" stroke-width="0.8"/><path d="M36.9,24.9l0.1,-2.0" stroke="#D09632" stroke-width="0.9"/><path d="M42.3,20.8l-0.3,-0.9" stroke="#DCA33A" stroke-width="0.6"/><path d="M13.6,49.9l-0.1,-1.0" stroke="#D09632" stroke-width="1.0"/><path d="M16.3,17.5l0.5,-2.3" stroke="#DCA33A" stroke-width="0.7"/><path d="M39.4,5.4l0.3,-1.7" stroke="#DCA33A" stroke-width="0.7"/><path d="M7.2,26.8l-0.6,-1.7" stroke="#D09632" stroke-width="0.8"/><path d="M56.0,22.4l-0.2,-1.0" stroke="#D09632" stroke-width="1.1"/><path d="M4.9,33.7l-0.0,-1.7" stroke="#D09632" stroke-width="1.0"/><path d="M32.2,20.3l0.2,-1.7" stroke="#D09632" stroke-width="1.1"/><path d="M4.1,22.7l0.6,-1.4" stroke="#D09632" stroke-width="1.1"/><path d="M14.4,36.5l-0.1,-1.1" stroke="#E9B94F" stroke-width="1.1"/><path d="M37.8,29.2l0.5,-1.4" stroke="#DCA33A" stroke-width="0.9"/><path d="M23.5,26.0l-0.5,-2.0" stroke="#D09632" stroke-width="1.0"/><path d="M8.5,27.5l-0.1,-1.7" stroke="#E9B94F" stroke-width="0.7"/><path d="M15.5,53.6l-0.0,-2.1" stroke="#D09632" stroke-width="0.9"/><path d="M51.1,26.0l0.6,-1.8" stroke="#D09632" stroke-width="0.9"/><path d="M38.4,2.6l-0.1,-0.9" stroke="#D09632" stroke-width="0.7"/><path d="M38.4,62.6l-0.1,-0.9" stroke="#D09632" stroke-width="0.7"/><path d="M14.5,42.4l0.4,-1.5" stroke="#DCA33A" stroke-width="1.0"/><path d="M46.7,50.0l-0.3,-2.0" stroke="#DCA33A" stroke-width="0.7"/><path d="M43.8,35.7l0.1,-1.5" stroke="#D09632" stroke-width="1.1"/><path d="M46.9,31.6l-0.3,-2.3" stroke="#D09632" stroke-width="0.9"/><path d="M4.9,16.0l0.3,-1.7" stroke="#D09632" stroke-width="1.1"/><path d="M4.5,11.3l-0.1,-2.3" stroke="#D09632" stroke-width="1.0"/><path d="M29.4,19.5l0.3,-2.3" stroke="#D09632" stroke-width="1.0"/><path d="M15.6,10.0l0.0,-1.7" stroke="#D09632" stroke-width="0.8"/><path d="M45.5,31.9l-0.3,-1.1" stroke="#DCA33A" stroke-width="0.7"/><path d="M17.0,8.6l0.2,-1.3" stroke="#D09632" stroke-width="0.9"/><path d="M50.8,11.7l-0.1,-1.8" stroke="#DCA33A" stroke-width="0.9"/><path d="M14.5,50.6l0.5,-1.8" stroke="#D09632" stroke-width="0.7"/><path d="M21.5,58.0l-0.1,-2.4" stroke="#DCA33A" stroke-width="0.9"/><path d="M21.5,-2.0l-0.1,-2.4" stroke="#DCA33A" stroke-width="0.9"/><path d="M56.1,19.0l-0.1,-0.9" stroke="#DCA33A" stroke-width="0.9"/><path d="M25.5,29.1l-0.2,-1.2" stroke="#D09632" stroke-width="1.0"/><path d="M10.5,58.0l0.5,-1.7" stroke="#D09632" stroke-width="1.1"/><path d="M10.5,-2.0l0.5,-1.7" stroke="#D09632" stroke-width="1.1"/><path d="M25.0,3.2l0.3,-1.6" stroke="#E9B94F" stroke-width="1.0"/><path d="M15.3,39.0l0.3,-1.3" stroke="#E9B94F" stroke-width="1.1"/><path d="M45.3,44.1l0.0,-1.1" stroke="#DCA33A" stroke-width="1.0"/><path d="M39.4,48.8l0.5,-1.2" stroke="#D09632" stroke-width="0.6"/><path d="M51.7,7.6l0.4,-1.5" stroke="#E9B94F" stroke-width="0.9"/><path d="M17.3,20.9l0.4,-0.8" stroke="#D09632" stroke-width="0.6"/><path d="M0.6,13.2l-0.1,-2.0" stroke="#D09632" stroke-width="0.9"/><path d="M60.6,13.2l-0.1,-2.0" stroke="#D09632" stroke-width="0.9"/><path d="M11.7,33.7l0.5,-0.8" stroke="#D09632" stroke-width="0.7"/><path d="M16.8,31.6l-0.1,-1.8" stroke="#D09632" stroke-width="1.1"/><path d="M57.7,37.2l-0.2,-1.1" stroke="#D09632" stroke-width="0.9"/><path d="M-2.3,37.2l-0.2,-1.1" stroke="#D09632" stroke-width="0.9"/><path d="M57.7,18.9l0.5,-1.5" stroke="#D09632" stroke-width="1.0"/><path d="M-2.3,18.9l0.5,-1.5" stroke="#D09632" stroke-width="1.0"/><path d="M54.2,20.1l-0.5,-2.2" stroke="#D09632" stroke-width="0.9"/><path d="M2.6,5.3l0.2,-1.7" stroke="#DCA33A" stroke-width="0.9"/><path d="M62.6,5.3l0.2,-1.7" stroke="#DCA33A" stroke-width="0.9"/><path d="M6.8,18.9l-0.2,-0.8" stroke="#E9B94F" stroke-width="0.8"/><path d="M28.8,43.1l0.0,-2.0" stroke="#DCA33A" stroke-width="0.6"/><path d="M19.4,51.9l-0.5,-2.2" stroke="#DCA33A" stroke-width="1.0"/><path d="M29.2,19.3l0.4,-2.4" stroke="#D09632" stroke-width="0.8"/><path d="M16.8,32.3l-0.4,-2.1" stroke="#D09632" stroke-width="1.0"/><path d="M13.9,32.7l-0.4,-1.6" stroke="#DCA33A" stroke-width="0.7"/><path d="M1.0,30.2l0.3,-1.2" stroke="#E9B94F" stroke-width="1.1"/><path d="M61.0,30.2l0.3,-1.2" stroke="#E9B94F" stroke-width="1.1"/><path d="M24.3,45.6l0.2,-0.9" stroke="#D09632" stroke-width="1.0"/><path d="M19.2,27.0l0.1,-1.8" stroke="#DCA33A" stroke-width="1.1"/><path d="M1.5,9.4l0.0,-1.3" stroke="#DCA33A" stroke-width="0.7"/><path d="M61.5,9.4l0.0,-1.3" stroke="#DCA33A" stroke-width="0.7"/><path d="M4.9,29.4l-0.3,-1.3" stroke="#D09632" stroke-width="0.6"/><path d="M44.6,28.7l0.2,-1.3" stroke="#D09632" stroke-width="0.7"/><path d="M20.8,10.0l0.4,-1.3" stroke="#D09632" stroke-width="0.8"/><path d="M13.8,3.4l-0.3,-1.5" stroke="#D09632" stroke-width="0.8"/><path d="M53.4,49.0l-0.3,-1.6" stroke="#D09632" stroke-width="0.8"/><path d="M2.1,34.8l-0.4,-2.2" stroke="#D09632" stroke-width="0.8"/><path d="M62.1,34.8l-0.4,-2.2" stroke="#D09632" stroke-width="0.8"/><path d="M19.0,11.2l0.0,-1.5" stroke="#DCA33A" stroke-width="0.8"/><path d="M19.0,19.4l-0.6,-2.1" stroke="#D09632" stroke-width="0.7"/><path d="M19.4,40.8l-0.6,-1.8" stroke="#DCA33A" stroke-width="0.7"/><path d="M18.1,20.5l-0.4,-1.7" stroke="#DCA33A" stroke-width="0.9"/><path d="M30.8,19.0l0.3,-2.0" stroke="#D09632" stroke-width="0.8"/><path d="M13.3,18.2l0.3,-1.6" stroke="#DCA33A" stroke-width="1.1"/><path d="M58.6,21.1l-0.1,-2.2" stroke="#D09632" stroke-width="0.8"/><path d="M-1.4,21.1l-0.1,-2.2" stroke="#D09632" stroke-width="0.8"/><path d="M18.5,17.4l0.5,-1.4" stroke="#D09632" stroke-width="1.0"/><path d="M39.8,52.9l0.0,-1.6" stroke="#DCA33A" stroke-width="0.9"/><path d="M26.3,49.8l0.3,-1.3" stroke="#D09632" stroke-width="0.6"/><path d="M36.4,10.1l0.5,-1.9" stroke="#DCA33A" stroke-width="1.0"/><path d="M59.1,2.2l0.4,-2.3" stroke="#D09632" stroke-width="0.6"/><path d="M59.1,62.2l0.4,-2.3" stroke="#D09632" stroke-width="0.6"/><path d="M-0.9,2.2l0.4,-2.3" stroke="#D09632" stroke-width="0.6"/><path d="M-0.9,62.2l0.4,-2.3" stroke="#D09632" stroke-width="0.6"/><path d="M48.8,29.2l-0.0,-1.1" stroke="#DCA33A" stroke-width="1.1"/><path d="M22.3,49.2l-0.2,-1.8" stroke="#E9B94F" stroke-width="1.0"/><path d="M39.3,19.3l-0.4,-2.1" stroke="#D09632" stroke-width="0.8"/><path d="M36.1,41.8l0.2,-2.4" stroke="#D09632" stroke-width="0.6"/><path d="M19.2,22.1l-0.0,-2.3" stroke="#E9B94F" stroke-width="1.0"/><path d="M3.9,9.9l0.1,-1.4" stroke="#DCA33A" stroke-width="1.1"/><path d="M14.1,56.2l0.5,-2.4" stroke="#DCA33A" stroke-width="0.7"/><path d="M24.7,9.5l-0.4,-1.3" stroke="#D09632" stroke-width="0.9"/><path d="M43.0,5.3l-0.1,-1.8" stroke="#D09632" stroke-width="1.0"/><path d="M31.1,56.9l-0.1,-1.9" stroke="#DCA33A" stroke-width="0.6"/><path d="M2.1,46.1l-0.4,-1.1" stroke="#D09632" stroke-width="1.0"/><path d="M62.1,46.1l-0.4,-1.1" stroke="#D09632" stroke-width="1.0"/><path d="M57.2,11.6l0.4,-2.0" stroke="#D09632" stroke-width="0.8"/><path d="M-2.8,11.6l0.4,-2.0" stroke="#D09632" stroke-width="0.8"/><path d="M14.1,48.8l-0.2,-1.9" stroke="#DCA33A" stroke-width="0.9"/><path d="M36.2,43.5l-0.5,-1.9" stroke="#E9B94F" stroke-width="1.1"/><path d="M49.7,5.4l-0.3,-2.2" stroke="#D09632" stroke-width="0.9"/><path d="M16.2,28.3l-0.1,-1.9" stroke="#DCA33A" stroke-width="1.0"/><path d="M58.2,19.4l-0.2,-2.1" stroke="#DCA33A" stroke-width="0.7"/><path d="M-1.8,19.4l-0.2,-2.1" stroke="#DCA33A" stroke-width="0.7"/><path d="M41.5,8.4l-0.3,-2.1" stroke="#DCA33A" stroke-width="0.6"/><path d="M23.0,29.7l0.5,-2.0" stroke="#E9B94F" stroke-width="0.8"/><path d="M43.7,22.9l-0.1,-2.0" stroke="#D09632" stroke-width="0.6"/><path d="M14.4,42.4l0.4,-1.6" stroke="#DCA33A" stroke-width="0.9"/><path d="M42.4,7.0l-0.2,-2.3" stroke="#D09632" stroke-width="0.7"/><path d="M20.0,24.4l0.4,-1.3" stroke="#D09632" stroke-width="0.7"/><path d="M21.6,53.0l-0.5,-2.3" stroke="#E9B94F" stroke-width="0.8"/><path d="M23.2,52.0l0.4,-2.2" stroke="#D09632" stroke-width="0.8"/><path d="M29.8,44.5l-0.4,-0.8" stroke="#DCA33A" stroke-width="0.9"/><path d="M34.5,5.1l-0.4,-1.3" stroke="#DCA33A" stroke-width="1.0"/><path d="M35.3,14.4l-0.0,-2.0" stroke="#D09632" stroke-width="0.8"/><path d="M25.5,36.7l-0.6,-1.7" stroke="#D09632" stroke-width="1.0"/><path d="M24.7,22.7l0.1,-1.1" stroke="#DCA33A" stroke-width="1.0"/><path d="M6.4,28.3l-0.5,-1.3" stroke="#DCA33A" stroke-width="1.1"/><path d="M0.5,5.4l0.2,-0.8" stroke="#DCA33A" stroke-width="1.0"/><path d="M60.5,5.4l0.2,-0.8" stroke="#DCA33A" stroke-width="1.0"/><path d="M12.6,39.4l0.3,-1.1" stroke="#E9B94F" stroke-width="0.6"/><path d="M35.2,49.6l0.2,-1.8" stroke="#DCA33A" stroke-width="1.1"/><path d="M19.2,57.1l0.0,-0.8" stroke="#DCA33A" stroke-width="1.1"/><path d="M19.2,-2.9l0.0,-0.8" stroke="#DCA33A" stroke-width="1.1"/><path d="M54.6,12.3l0.2,-1.8" stroke="#D09632" stroke-width="0.6"/><path d="M56.7,22.2l0.4,-2.0" stroke="#D09632" stroke-width="0.6"/><path d="M44.9,44.0l0.4,-1.3" stroke="#D09632" stroke-width="0.9"/><path d="M53.4,52.5l0.6,-2.4" stroke="#D09632" stroke-width="0.9"/><path d="M21.2,6.5l0.4,-1.8" stroke="#DCA33A" stroke-width="0.6"/><path d="M45.3,51.0l-0.0,-1.1" stroke="#D09632" stroke-width="0.6"/><path d="M4.0,49.2l0.6,-0.9" stroke="#D09632" stroke-width="0.9"/><path d="M11.2,30.9l-0.3,-2.4" stroke="#DCA33A" stroke-width="0.8"/><path d="M22.7,33.4l-0.4,-1.9" stroke="#D09632" stroke-width="0.7"/><path d="M53.8,35.9l0.1,-1.2" stroke="#D09632" stroke-width="1.0"/><path d="M4.7,18.1l0.5,-1.5" stroke="#D09632" stroke-width="0.7"/><path d="M15.3,19.3l-0.3,-2.3" stroke="#D09632" stroke-width="1.1"/><path d="M57.6,0.5l0.1,-1.5" stroke="#DCA33A" stroke-width="0.7"/><path d="M57.6,60.5l0.1,-1.5" stroke="#DCA33A" stroke-width="0.7"/><path d="M-2.4,0.5l0.1,-1.5" stroke="#DCA33A" stroke-width="0.7"/><path d="M-2.4,60.5l0.1,-1.5" stroke="#DCA33A" stroke-width="0.7"/><path d="M21.1,55.2l-0.6,-2.4" stroke="#E9B94F" stroke-width="0.7"/><path d="M23.7,5.4l-0.4,-1.4" stroke="#D09632" stroke-width="0.8"/><path d="M4.9,16.1l-0.2,-1.1" stroke="#E9B94F" stroke-width="0.6"/><path d="M15.7,4.6l-0.3,-1.7" stroke="#D09632" stroke-width="0.9"/><path d="M40.4,53.2l0.6,-1.6" stroke="#D09632" stroke-width="0.7"/><path d="M23.3,5.4l0.2,-1.1" stroke="#DCA33A" stroke-width="0.8"/><path d="M12.2,58.5l-0.2,-1.8" stroke="#D09632" stroke-width="0.7"/><path d="M12.2,-1.5l-0.2,-1.8" stroke="#D09632" stroke-width="0.7"/><path d="M20.0,33.0l0.5,-2.2" stroke="#D09632" stroke-width="0.6"/><path d="M57.2,26.4l-0.3,-2.3" stroke="#DCA33A" stroke-width="0.8"/><path d="M-2.8,26.4l-0.3,-2.3" stroke="#DCA33A" stroke-width="0.8"/><path d="M8.0,9.0l-0.6,-0.9" stroke="#E9B94F" stroke-width="0.8"/><path d="M59.7,50.5l-0.4,-2.2" stroke="#D09632" stroke-width="0.6"/><path d="M-0.3,50.5l-0.4,-2.2" stroke="#D09632" stroke-width="0.6"/><path d="M17.7,33.4l0.4,-2.1" stroke="#D09632" stroke-width="0.9"/><path d="M30.6,27.4l0.5,-2.3" stroke="#D09632" stroke-width="0.7"/><path d="M45.5,43.7l0.1,-1.2" stroke="#D09632" stroke-width="0.7"/><path d="M60.0,44.1l-0.0,-1.4" stroke="#D09632" stroke-width="0.9"/><path d="M-0.0,44.1l-0.0,-1.4" stroke="#D09632" stroke-width="0.9"/><path d="M46.7,26.5l-0.4,-2.3" stroke="#D09632" stroke-width="1.0"/><path d="M30.2,2.8l-0.4,-1.1" stroke="#D09632" stroke-width="0.9"/><path d="M30.2,62.8l-0.4,-1.1" stroke="#D09632" stroke-width="0.9"/><path d="M25.3,48.8l0.1,-1.7" stroke="#D09632" stroke-width="0.6"/><path d="M17.5,57.1l0.6,-1.5" stroke="#DCA33A" stroke-width="0.8"/><path d="M17.5,-2.9l0.6,-1.5" stroke="#DCA33A" stroke-width="0.8"/><path d="M38.2,9.1l0.2,-0.9" stroke="#E9B94F" stroke-width="0.7"/><path d="M19.9,47.3l0.1,-1.0" stroke="#E9B94F" stroke-width="0.9"/><path d="M12.2,12.2l-0.5,-1.0" stroke="#D09632" stroke-width="1.1"/><path d="M28.1,39.7l0.1,-0.8" stroke="#D09632" stroke-width="1.0"/><path d="M9.0,48.4l-0.1,-1.7" stroke="#D09632" stroke-width="0.8"/><path d="M58.7,49.7l0.5,-1.7" stroke="#D09632" stroke-width="1.0"/><path d="M-1.3,49.7l0.5,-1.7" stroke="#D09632" stroke-width="1.0"/><path d="M53.8,12.6l-0.3,-2.3" stroke="#DCA33A" stroke-width="0.7"/><path d="M25.7,48.0l-0.5,-1.4" stroke="#D09632" stroke-width="0.9"/><path d="M16.2,16.9l0.2,-2.2" stroke="#E9B94F" stroke-width="0.7"/><path d="M50.8,45.3l0.4,-2.0" stroke="#D09632" stroke-width="0.8"/><path d="M57.8,3.5l-0.5,-2.2" stroke="#DCA33A" stroke-width="0.9"/><path d="M-2.2,3.5l-0.5,-2.2" stroke="#DCA33A" stroke-width="0.9"/><path d="M28.4,40.2l0.1,-2.2" stroke="#DCA33A" stroke-width="0.7"/><path d="M38.1,21.9l-0.5,-1.7" stroke="#E9B94F" stroke-width="0.8"/><path d="M8.6,42.5l0.4,-1.6" stroke="#D09632" stroke-width="0.8"/><path d="M7.5,2.2l-0.2,-1.4" stroke="#E9B94F" stroke-width="0.8"/><path d="M7.5,62.2l-0.2,-1.4" stroke="#E9B94F" stroke-width="0.8"/><path d="M36.5,52.5l-0.3,-1.4" stroke="#D09632" stroke-width="0.7"/><path d="M33.0,42.0l0.4,-1.8" stroke="#D09632" stroke-width="0.9"/><path d="M4.8,46.9l-0.1,-1.0" stroke="#D09632" stroke-width="1.0"/><path d="M29.0,36.4l-0.5,-1.6" stroke="#DCA33A" stroke-width="1.0"/><path d="M25.8,37.8l-0.1,-1.1" stroke="#D09632" stroke-width="0.9"/><path d="M13.9,50.5l0.3,-1.7" stroke="#D09632" stroke-width="0.9"/><path d="M57.9,46.9l-0.2,-1.0" stroke="#E9B94F" stroke-width="0.7"/><path d="M-2.1,46.9l-0.2,-1.0" stroke="#E9B94F" stroke-width="0.7"/><path d="M54.4,23.5l-0.1,-1.1" stroke="#D09632" stroke-width="1.0"/><path d="M5.7,57.8l0.2,-2.3" stroke="#DCA33A" stroke-width="0.6"/><path d="M5.7,-2.2l0.2,-2.3" stroke="#DCA33A" stroke-width="0.6"/><path d="M30.8,38.3l0.3,-1.0" stroke="#D09632" stroke-width="1.1"/><path d="M3.7,48.3l-0.1,-1.8" stroke="#D09632" stroke-width="1.0"/><path d="M22.0,19.8l-0.1,-1.7" stroke="#DCA33A" stroke-width="0.7"/><path d="M30.8,45.5l-0.3,-0.8" stroke="#D09632" stroke-width="0.6"/><path d="M31.3,57.2l-0.6,-1.2" stroke="#E9B94F" stroke-width="1.0"/><path d="M31.3,-2.8l-0.6,-1.2" stroke="#E9B94F" stroke-width="1.0"/><path d="M55.0,30.0l-0.6,-1.0" stroke="#D09632" stroke-width="0.9"/><path d="M6.8,24.6l-0.0,-2.1" stroke="#DCA33A" stroke-width="1.0"/><path d="M12.2,7.8l-0.1,-2.3" stroke="#D09632" stroke-width="0.8"/><path d="M31.8,19.6l-0.3,-1.0" stroke="#DCA33A" stroke-width="0.9"/><path d="M38.9,47.7l-0.5,-1.5" stroke="#D09632" stroke-width="1.0"/><path d="M48.4,41.0l-0.4,-2.4" stroke="#D09632" stroke-width="0.8"/><path d="M15.5,52.2l0.1,-1.9" stroke="#D09632" stroke-width="1.0"/><path d="M33.8,26.7l0.0,-1.7" stroke="#D09632" stroke-width="1.0"/><path d="M20.8,32.1l0.5,-1.8" stroke="#D09632" stroke-width="1.0"/><path d="M43.4,38.0l-0.0,-2.3" stroke="#DCA33A" stroke-width="0.9"/><path d="M34.7,59.1l0.3,-1.9" stroke="#E9B94F" stroke-width="0.6"/><path d="M34.7,-0.9l0.3,-1.9" stroke="#E9B94F" stroke-width="0.6"/><path d="M44.8,3.3l0.3,-2.1" stroke="#D09632" stroke-width="0.8"/><path d="M43.2,53.5l0.3,-0.9" stroke="#D09632" stroke-width="0.9"/><path d="M17.3,6.4l-0.1,-1.5" stroke="#D09632" stroke-width="1.1"/><path d="M38.1,15.9l0.1,-1.6" stroke="#E9B94F" stroke-width="0.8"/><path d="M37.5,30.3l-0.3,-2.1" stroke="#D09632" stroke-width="0.8"/><path d="M46.2,35.4l0.1,-1.0" stroke="#DCA33A" stroke-width="0.8"/><path d="M6.4,6.3l0.0,-1.3" stroke="#D09632" stroke-width="0.9"/><path d="M18.4,47.5l0.5,-2.2" stroke="#D09632" stroke-width="0.7"/><circle cx="18.4" cy="38.0" r="0.7" fill="#97601A"/><circle cx="12.1" cy="6.8" r="0.9" fill="#97601A"/><circle cx="22.8" cy="26.2" r="0.6" fill="#97601A"/><circle cx="6.6" cy="58.9" r="0.8" fill="#97601A"/><circle cx="6.6" cy="-1.1" r="0.8" fill="#97601A"/><circle cx="53.8" cy="20.2" r="1.1" fill="#97601A"/><circle cx="19.9" cy="6.4" r="0.9" fill="#97601A"/><circle cx="49.7" cy="58.3" r="1.1" fill="#97601A"/><circle cx="49.7" cy="-1.7" r="1.1" fill="#97601A"/><circle cx="2.9" cy="36.9" r="0.9" fill="#97601A"/><circle cx="32.4" cy="17.8" r="0.7" fill="#97601A"/><circle cx="16.4" cy="5.4" r="0.9" fill="#97601A"/><circle cx="40.9" cy="17.4" r="0.8" fill="#97601A"/><circle cx="18.7" cy="1.2" r="1.0" fill="#97601A"/><circle cx="18.7" cy="61.2" r="1.0" fill="#97601A"/><circle cx="9.3" cy="8.0" r="1.0" fill="#97601A"/><circle cx="48.0" cy="16.5" r="1.0" fill="#97601A"/><circle cx="21.5" cy="18.4" r="0.5" fill="#97601A"/><circle cx="10.6" cy="35.0" r="0.9" fill="#97601A"/><circle cx="6.0" cy="36.4" r="0.9" fill="#97601A"/><circle cx="40.4" cy="48.4" r="1.1" fill="#97601A"/><circle cx="20.4" cy="51.7" r="0.7" fill="#97601A"/><circle cx="42.2" cy="20.0" r="0.9" fill="#97601A"/><circle cx="19.4" cy="58.0" r="0.7" fill="#97601A"/><circle cx="19.4" cy="-2.0" r="0.7" fill="#97601A"/><circle cx="33.6" cy="53.6" r="0.8" fill="#97601A"/><circle cx="14.5" cy="27.2" r="0.8" fill="#97601A"/><circle cx="9.4" cy="10.1" r="0.7" fill="#97601A"/><circle cx="38.7" cy="11.0" r="0.6" fill="#97601A"/><circle cx="48.1" cy="25.9" r="0.8" fill="#97601A"/><circle cx="31.9" cy="41.3" r="0.8" fill="#97601A"/><circle cx="55.8" cy="57.0" r="0.8" fill="#97601A"/><circle cx="41.8" cy="34.9" r="1.1" fill="#97601A"/><circle cx="0.5" cy="41.3" r="0.9" fill="#97601A"/><circle cx="60.5" cy="41.3" r="0.9" fill="#97601A"/><circle cx="31.3" cy="41.0" r="0.5" fill="#97601A"/><circle cx="31.0" cy="22.8" r="0.7" fill="#97601A"/><circle cx="42.6" cy="38.0" r="1.0" fill="#97601A"/><circle cx="31.6" cy="53.5" r="1.1" fill="#97601A"/><circle cx="29.0" cy="43.2" r="0.7" fill="#97601A"/><circle cx="22.3" cy="47.9" r="0.8" fill="#97601A"/><circle cx="56.1" cy="24.8" r="0.7" fill="#97601A"/><circle cx="26.1" cy="24.7" r="0.6" fill="#97601A"/><circle cx="34.4" cy="46.1" r="1.0" fill="#97601A"/><circle cx="59.3" cy="29.8" r="1.0" fill="#97601A"/><circle cx="-0.7" cy="29.8" r="1.0" fill="#97601A"/><circle cx="54.5" cy="38.7" r="0.8" fill="#97601A"/><circle cx="45.2" cy="9.6" r="0.9" fill="#97601A"/><circle cx="26.0" cy="3.2" r="0.6" fill="#97601A"/><circle cx="35.0" cy="23.5" r="0.6" fill="#97601A"/><circle cx="34.7" cy="53.8" r="0.6" fill="#97601A"/><circle cx="9.2" cy="11.4" r="0.6" fill="#97601A"/><circle cx="3.0" cy="33.6" r="0.8" fill="#97601A"/><circle cx="37.1" cy="31.3" r="0.7" fill="#97601A"/><circle cx="9.3" cy="52.2" r="0.6" fill="#97601A"/><circle cx="4.8" cy="27.3" r="0.8" fill="#97601A"/><circle cx="16.5" cy="59.2" r="1.1" fill="#97601A"/><circle cx="16.5" cy="-0.8" r="1.1" fill="#97601A"/><circle cx="20.2" cy="51.8" r="0.8" fill="#97601A"/><circle cx="37.5" cy="12.6" r="0.8" fill="#97601A"/><circle cx="29.0" cy="47.4" r="0.8" fill="#97601A"/><circle cx="19.1" cy="39.8" r="0.5" fill="#97601A"/><circle cx="53.2" cy="35.9" r="1.0" fill="#97601A"/><circle cx="18.2" cy="37.8" r="0.7" fill="#97601A"/><circle cx="42.0" cy="58.0" r="0.7" fill="#97601A"/><circle cx="42.0" cy="-2.0" r="0.7" fill="#97601A"/><circle cx="45.2" cy="59.9" r="0.5" fill="#97601A"/><circle cx="45.2" cy="-0.1" r="0.5" fill="#97601A"/><circle cx="2.1" cy="54.4" r="0.9" fill="#97601A"/><circle cx="57.3" cy="25.7" r="1.0" fill="#97601A"/><circle cx="28.4" cy="22.3" r="0.9" fill="#97601A"/><circle cx="26.1" cy="18.2" r="0.8" fill="#97601A"/><circle cx="35.2" cy="0.7" r="0.9" fill="#97601A"/><circle cx="35.2" cy="60.7" r="0.9" fill="#97601A"/><circle cx="17.6" cy="50.5" r="1.1" fill="#97601A"/><circle cx="6.9" cy="9.4" r="0.8" fill="#97601A"/><circle cx="43.4" cy="11.6" r="0.7" fill="#97601A"/><circle cx="1.7" cy="46.8" r="0.5" fill="#97601A"/><circle cx="61.7" cy="46.8" r="0.5" fill="#97601A"/><circle cx="50.4" cy="57.8" r="0.7" fill="#97601A"/><circle cx="29.6" cy="51.5" r="0.5" fill="#97601A"/><circle cx="16.1" cy="50.7" r="0.9" fill="#97601A"/><circle cx="25.4" cy="45.3" r="1.1" fill="#97601A"/><circle cx="47.8" cy="3.5" r="0.5" fill="#97601A"/><circle cx="49.1" cy="18.5" r="0.6" fill="#97601A"/><circle cx="27.1" cy="36.8" r="1.1" fill="#97601A"/><circle cx="24.3" cy="30.7" r="0.9" fill="#97601A"/><circle cx="53.4" cy="2.4" r="0.7" fill="#97601A"/><circle cx="9.7" cy="46.5" r="0.9" fill="#97601A"/><circle cx="1.0" cy="8.9" r="0.8" fill="#97601A"/><circle cx="61.0" cy="8.9" r="0.8" fill="#97601A"/><circle cx="24.5" cy="30.6" r="0.8" fill="#97601A"/><circle cx="30.6" cy="38.1" r="0.6" fill="#97601A"/><circle cx="28.8" cy="25.1" r="0.7" fill="#97601A"/><circle cx="6.5" cy="44.5" r="0.7" fill="#97601A"/><circle cx="14.6" cy="0.0" r="0.6" fill="#97601A"/><circle cx="14.6" cy="60.0" r="0.6" fill="#97601A"/><circle cx="26.5" cy="30.2" r="0.9" fill="#97601A"/><circle cx="1.7" cy="20.7" r="0.7" fill="#97601A"/><circle cx="61.7" cy="20.7" r="0.7" fill="#97601A"/><circle cx="41.7" cy="6.9" r="1.1" fill="#97601A"/><circle cx="54.2" cy="51.4" r="0.6" fill="#97601A"/><circle cx="40.0" cy="42.4" r="0.7" fill="#97601A"/><circle cx="32.3" cy="54.4" r="0.9" fill="#97601A"/><circle cx="42.5" cy="0.5" r="1.0" fill="#97601A"/><circle cx="42.5" cy="60.5" r="1.0" fill="#97601A"/><circle cx="41.7" cy="2.3" r="0.5" fill="#97601A"/><circle cx="42.7" cy="33.4" r="0.7" fill="#97601A"/><circle cx="55.3" cy="34.3" r="0.9" fill="#97601A"/><circle cx="56.7" cy="2.5" r="0.5" fill="#97601A"/><circle cx="34.0" cy="37.7" r="1.0" fill="#97601A"/><circle cx="17.3" cy="40.9" r="0.7" fill="#97601A"/><circle cx="35.4" cy="37.4" r="0.7" fill="#97601A"/><circle cx="54.8" cy="7.7" r="1.0" fill="#97601A"/><circle cx="32.7" cy="32.9" r="0.6" fill="#97601A"/><circle cx="19.7" cy="56.1" r="0.5" fill="#97601A"/><circle cx="47.3" cy="44.9" r="1.0" fill="#97601A"/><circle cx="55.5" cy="8.0" r="0.7" fill="#97601A"/><circle cx="0.2" cy="24.6" r="0.9" fill="#97601A"/><circle cx="60.2" cy="24.6" r="0.9" fill="#97601A"/><circle cx="19.6" cy="40.2" r="0.9" fill="#97601A"/><circle cx="14.7" cy="17.3" r="1.0" fill="#97601A"/><circle cx="13.5" cy="11.7" r="0.8" fill="#97601A"/><circle cx="2.8" cy="39.9" r="0.8" fill="#97601A"/><circle cx="17.2" cy="43.3" r="0.7" fill="#97601A"/><circle cx="56.4" cy="42.3" r="0.7" fill="#97601A"/><circle cx="4.9" cy="25.2" r="1.0" fill="#97601A"/><circle cx="50.2" cy="16.2" r="0.5" fill="#97601A"/><circle cx="2.7" cy="50.6" r="0.9" fill="#97601A"/><circle cx="56.5" cy="39.2" r="0.9" fill="#97601A"/><circle cx="16.5" cy="25.3" r="0.7" fill="#97601A"/><circle cx="8.5" cy="42.8" r="0.6" fill="#97601A"/><circle cx="18.9" cy="37.3" r="0.7" fill="#97601A"/><circle cx="56.1" cy="31.6" r="0.6" fill="#97601A"/><circle cx="24.2" cy="6.6" r="0.8" fill="#97601A"/><circle cx="36.1" cy="48.9" r="1.0" fill="#97601A"/><circle cx="57.7" cy="54.7" r="0.9" fill="#97601A"/><circle cx="43.1" cy="38.7" r="0.9" fill="#97601A"/><circle cx="19.5" cy="46.9" r="0.5" fill="#97601A"/><circle cx="32.0" cy="58.7" r="1.0" fill="#97601A"/><circle cx="32.0" cy="-1.3" r="1.0" fill="#97601A"/><circle cx="55.5" cy="7.1" r="1.1" fill="#97601A"/><circle cx="7.7" cy="15.0" r="0.9" fill="#97601A"/><circle cx="7.4" cy="39.0" r="0.7" fill="#97601A"/><circle cx="11.1" cy="47.7" r="1.0" fill="#97601A"/><circle cx="30.8" cy="16.7" r="0.8" fill="#97601A"/><circle cx="29.0" cy="21.6" r="0.9" fill="#97601A"/><circle cx="25.9" cy="36.8" r="0.7" fill="#97601A"/><circle cx="21.4" cy="49.2" r="0.5" fill="#97601A"/><circle cx="57.6" cy="45.3" r="0.6" fill="#97601A"/><circle cx="26.2" cy="7.0" r="1.0" fill="#97601A"/><circle cx="35.2" cy="12.1" r="0.5" fill="#97601A"/><circle cx="51.1" cy="28.8" r="1.1" fill="#97601A"/><circle cx="13.5" cy="42.3" r="0.7" fill="#97601A"/><circle cx="28.9" cy="27.5" r="0.7" fill="#97601A"/><circle cx="57.2" cy="27.0" r="0.6" fill="#97601A"/><circle cx="25.4" cy="0.7" r="0.8" fill="#97601A"/><circle cx="25.4" cy="60.7" r="0.8" fill="#97601A"/><circle cx="58.7" cy="30.3" r="1.0" fill="#97601A"/><circle cx="-1.3" cy="30.3" r="1.0" fill="#97601A"/><circle cx="25.6" cy="16.1" r="1.0" fill="#97601A"/><circle cx="51.7" cy="29.5" r="0.9" fill="#97601A"/><circle cx="46.8" cy="12.4" r="0.8" fill="#97601A"/><circle cx="26.1" cy="17.2" r="1.0" fill="#97601A"/><circle cx="2.0" cy="13.0" r="0.8" fill="#97601A"/><circle cx="62.0" cy="13.0" r="0.8" fill="#97601A"/><circle cx="26.1" cy="23.0" r="0.5" fill="#97601A"/><circle cx="15.5" cy="34.4" r="0.5" fill="#97601A"/><circle cx="31.5" cy="19.1" r="0.9" fill="#97601A"/><circle cx="42.3" cy="44.2" r="0.5" fill="#97601A"/></pattern>
</defs>
<polygon points="224.0,145.2 378.6,234.3 378.6,330.0 224.0,240.0" fill="#E7C487" />
<path d="M244.1,171.4 L259.8,180.1 L259.8,205.4 L244.1,196.7 Z" fill="none" stroke="#B07A2C" stroke-width="1.2" />
<path d="M246.3,181.2 L257.6,188.7" fill="none" stroke="#B07A2C" stroke-width="0.9" />
<path d="M246.3,173.9 L246.3,194.9 L257.6,202.4 L257.6,181.4 Z" fill="none" stroke="#B07A2C" stroke-width="0.8" />
<path d="M290.7,197.3 L306.4,206.0 L306.4,230.7 L290.7,222.0 Z" fill="none" stroke="#B07A2C" stroke-width="1.2" />
<path d="M292.9,207.0 L304.2,214.4" fill="none" stroke="#B07A2C" stroke-width="0.9" />
<path d="M292.9,199.8 L292.9,220.2 L304.2,227.7 L304.2,207.3 Z" fill="none" stroke="#B07A2C" stroke-width="0.8" />
<path d="M336.6,223.4 L352.3,232.1 L352.3,257.1 L336.6,248.4 Z" fill="none" stroke="#B07A2C" stroke-width="1.2" />
<path d="M338.8,233.2 L350.1,240.6" fill="none" stroke="#B07A2C" stroke-width="0.9" />
<path d="M338.8,225.9 L338.8,246.6 L350.1,254.1 L350.1,233.4 Z" fill="none" stroke="#B07A2C" stroke-width="0.8" />
<path d="M240.1,207.7 L261.1,219.4 L261.1,259.4 L240.1,247.7 Z" fill="none" stroke="#B07A2C" stroke-width="1.2" />
<path d="M242.1,210.8 L259.1,221.2 L259.1,259.4 M242.1,210.7 L242.1,247.7 M250.6,215.5 L250.6,253.5" fill="none" stroke="#B07A2C" stroke-width="0.8" />
<path d="M249.3,231.5 l0,7 M251.9,232.3 l0,7" fill="none" stroke="#B07A2C" stroke-width="1.3" />
<path d="M333.2,261.0 L354.0,272.5 L354.0,310.5 L333.2,299.0 Z" fill="none" stroke="#B07A2C" stroke-width="1.2" />
<path d="M335.2,264.1 L352.0,274.4 L352.0,310.5 M335.2,264.0 L335.2,299.0 M343.6,268.8 L343.6,304.8" fill="none" stroke="#B07A2C" stroke-width="0.8" />
<path d="M342.3,283.9 l0,7 M344.9,284.6 l0,7" fill="none" stroke="#B07A2C" stroke-width="1.3" />
<polygon points="69.8,321.3 143.2,364.0 143.2,390.0 69.8,347.0" fill="#A86E1F" />
<polygon points="69.8,341.5 143.2,384.5 143.2,390.0 69.8,347.0" fill="#7E4C14" />
<polygon points="143.2,366.5 225.2,416.0 225.2,436.3 143.2,390.0" fill="#EDCE98" />
<polygon points="225.2,416.0 327.0,355.0 327.0,375.2 225.2,436.3" fill="#DDB680" />
<polygon points="327.0,353.9 378.5,324.0 378.5,347.3 327.0,375.2" fill="#A86E1F" />
<polygon points="327.0,370.0 378.5,342.0 378.5,347.3 327.0,375.2" fill="#7E4C14" />
<polygon points="69.8,321.3 224.0,232.0 378.5,324.0 225.2,416.0" fill="#EFD39B" />
<polygon points="69.8,321.3 71.7,318.8 73.6,319.2 75.6,315.2 77.5,316.9 79.4,313.5 81.3,314.9 83.2,313.1 85.1,312.8 87.1,310.9 89.0,310.6 90.9,308.7 92.8,308.2 94.7,305.2 96.6,306.4 98.6,304.1 100.5,303.9 102.4,300.0 104.3,302.1 106.2,298.0 108.2,299.6 110.1,294.0 112.0,297.2 113.9,292.4 115.8,295.1 117.7,293.1 119.7,292.8 121.6,290.3 123.5,291.0 125.4,288.6 127.3,288.7 129.2,284.6 131.2,286.4 133.1,282.8 135.0,284.0 137.0,284.5 139.0,286.1 141.0,286.1 142.9,288.5 144.9,287.4 146.9,290.4 148.9,288.8 150.9,292.6 152.9,292.0 154.9,294.8 156.9,292.5 158.8,296.6 160.8,295.1 162.8,298.8 164.8,295.8 166.8,301.0 168.8,300.4 170.8,303.2 172.8,303.0 174.7,305.0 176.7,302.6 178.7,306.9 180.7,305.8 182.7,309.0 184.7,307.1 186.7,311.4 188.6,309.6 190.6,313.6 192.6,312.7 194.6,315.5 196.6,313.7 198.6,317.6 200.6,316.3 202.6,319.8 204.5,316.3 206.5,321.7 208.5,319.6 210.5,323.5 143.2,364.0" fill="url(#grass)" />
<polygon points="143.2,366.5 211.0,326.5 294.5,375.0 225.2,416.0" fill="#F0D59D" />
<path d="M211,326.3 L294.5,374.7" fill="none" stroke="#F8EBD2" stroke-width="1.8" />
<path d="M143.2,366 L211,326.3" fill="none" stroke="#F6E6C6" stroke-width="1.2" />
<polygon points="143.2,366.8 225.2,416.3 225.2,421.0 143.2,371.5" fill="#F3DDB3" />
<path d="M145.0,368.5 l0,3 M147.6,370.1 l0,3 M150.3,371.7 l0,3 M152.9,373.2 l0,3 M155.5,374.8 l0,3 M158.2,376.4 l0,3 M160.8,378.0 l0,3 M163.4,379.6 l0,3 M166.1,381.2 l0,3 M168.7,382.8 l0,3 M171.3,384.3 l0,3 M174.0,385.9 l0,3 M176.6,387.5 l0,3 M179.2,389.1 l0,3 M181.9,390.7 l0,3 M184.5,392.2 l0,3 M187.1,393.8 l0,3 M189.8,395.4 l0,3 M192.4,397.0 l0,3 M195.0,398.6 l0,3 M197.7,400.2 l0,3 M200.3,401.8 l0,3 M202.9,403.3 l0,3 M205.6,404.9 l0,3 M208.2,406.5 l0,3 M210.8,408.1 l0,3 M213.5,409.7 l0,3 M216.1,411.2 l0,3 M218.7,412.8 l0,3 M221.4,414.4 l0,3 M224.0,416.0 l0,3 " fill="none" stroke="#CFA676" stroke-width="0.7" />
<polygon points="225.2,416.3 327.0,355.5 327.0,360.0 225.2,421.0" fill="#EFD3A4" />
<path d="M227.0,416.5 l0,3 M230.1,414.7 l0,3 M233.1,412.8 l0,3 M236.2,411.0 l0,3 M239.2,409.1 l0,3 M242.3,407.3 l0,3 M245.4,405.4 l0,3 M248.4,403.6 l0,3 M251.5,401.8 l0,3 M254.6,399.9 l0,3 M257.6,398.1 l0,3 M260.7,396.2 l0,3 M263.8,394.4 l0,3 M266.8,392.5 l0,3 M269.9,390.7 l0,3 M272.9,388.8 l0,3 M276.0,387.0 l0,3 M279.1,385.2 l0,3 M282.1,383.3 l0,3 M285.2,381.5 l0,3 M288.2,379.6 l0,3 M291.3,377.8 l0,3 M294.4,375.9 l0,3 M297.4,374.1 l0,3 M300.5,372.2 l0,3 M303.6,370.4 l0,3 M306.6,368.6 l0,3 M309.7,366.7 l0,3 M312.8,364.9 l0,3 M315.8,363.0 l0,3 M318.9,361.2 l0,3 M321.9,359.3 l0,3 M325.0,357.5 l0,3 " fill="none" stroke="#CFA676" stroke-width="0.7" />
<polygon points="170.6,262.0 172.5,260.4 174.4,260.1 176.3,256.3 178.2,258.0 180.1,253.4 182.0,255.5 183.9,252.8 185.9,253.4 187.8,251.7 189.7,251.1 191.6,249.1 193.5,248.8 195.4,247.1 197.3,246.8 199.2,244.7 201.1,244.4 203.0,241.7 204.9,242.5 206.8,240.4 208.7,240.1 210.7,236.7 212.6,238.0 214.5,233.5 216.4,235.8 218.3,233.2 220.2,233.4 222.1,230.8 224.0,231.0 239.8,243.8 187.9,272.0" fill="url(#grass)" />
<polygon points="207.7,272.4 249.0,247.7 331.0,294.0 283.0,326.8 281.1,315.1" fill="url(#grass)" />
<polygon points="301.0,330.0 302.9,325.6 304.8,328.2 306.7,326.0 308.6,325.6 310.6,323.5 312.5,323.4 314.4,320.4 316.3,321.4 318.2,319.0 320.1,318.9 322.0,316.2 323.9,316.8 325.8,313.5 327.8,314.9 329.7,310.8 331.6,312.5 333.5,308.9 335.4,310.3 337.3,308.4 339.2,308.2 341.1,303.8 343.0,305.9 345.0,301.5 346.9,303.5 348.8,300.7 350.7,301.2 352.6,300.0 354.5,299.0 356.3,302.6 358.2,303.4 360.0,305.2 361.9,305.7 363.7,307.9 365.6,308.6 367.4,310.3 369.2,310.9 371.1,312.9 372.9,312.8 374.8,315.4 376.6,313.5 378.5,318.0 378.5,324.0 327.0,353.9" fill="url(#grass)" />
<polygon points="170.6,249.6 187.9,257.8 187.9,271.8 170.6,263.6" fill="#E8C991" />
<polygon points="170.6,249.6 187.9,257.8 189.2,257.0 171.9,248.8" fill="#F4E2BC" />
<path d="M187.9,257.8 L187.9,271.8" fill="none" stroke="#D8B47A" stroke-width="0.8" />
<polygon points="207.7,271.6 281.1,313.8 281.1,327.4 207.7,285.2" fill="#E8C991" />
<polygon points="207.7,271.6 281.1,313.8 282.4,313.0 209.0,270.8" fill="#F4E2BC" />
<path d="M281.1,313.8 L281.1,327.4" fill="none" stroke="#D8B47A" stroke-width="0.8" />
<polygon points="301.0,325.8 326.0,339.8 326.0,361.8 301.0,347.8" fill="#E8C991" />
<polygon points="301.0,325.8 326.0,339.8 327.3,339.0 302.3,325.0" fill="#F4E2BC" />
<path d="M326.0,339.8 L326.0,361.8" fill="none" stroke="#D8B47A" stroke-width="0.8" />
<path d="M182.1,249.6 A13.5,13.8 0 0 1 209.0,251.1 L203.6,252.3 L195.6,250.7 L187.5,250.8 Z" fill="#A06A1C" stroke="none" stroke-width="1" />
<path d="M183.0,246.6 A12.6,10.5 0 0 1 208.1,248.1 L202.3,247.0 L195.6,247.6 L188.8,245.2 Z" fill="#C68E30" stroke="none" stroke-width="1" />
<path d="M201.3,239.0 A14.4,13.8 0 0 1 230.2,240.5 L224.4,241.7 L215.8,240.1 L207.1,240.2 Z" fill="#A06A1C" stroke="none" stroke-width="1" />
<path d="M202.2,236.0 A13.5,10.5 0 0 1 229.3,237.5 L223.0,236.4 L215.8,237.0 L208.5,234.6 Z" fill="#C68E30" stroke="none" stroke-width="1" />
<path d="M249.7,253.0 A13.7,11.3 0 0 1 277.1,254.7 L271.6,255.9 L263.4,254.1 L255.2,254.2 Z" fill="#A06A1C" stroke="none" stroke-width="1" />
<path d="M250.6,250.5 A12.8,8.6 0 0 1 276.2,252.2 L270.2,251.3 L263.4,251.6 L256.6,249.4 Z" fill="#C68E30" stroke="none" stroke-width="1" />
<path d="M239.0,261.0 A13.3,11.2 0 0 1 265.7,262.7 L260.4,263.9 L252.3,262.1 L244.3,262.2 Z" fill="#A06A1C" stroke="none" stroke-width="1" />
<path d="M239.9,258.5 A12.4,8.5 0 0 1 264.8,260.2 L259.0,259.3 L252.3,259.6 L245.7,257.4 Z" fill="#C68E30" stroke="none" stroke-width="1" />
<path d="M267.0,263.0 A11.7,10.4 0 0 1 290.4,264.6 L285.7,265.8 L278.7,264.1 L271.7,264.2 Z" fill="#A06A1C" stroke="none" stroke-width="1" />
<path d="M267.9,260.7 A10.8,7.9 0 0 1 289.5,262.3 L284.5,261.4 L278.7,261.7 L272.9,259.7 Z" fill="#C68E30" stroke="none" stroke-width="1" />
<path d="M227.0,268.4 A12.7,12.2 0 0 1 252.4,270.2 L247.3,271.4 L239.7,269.6 L232.1,269.6 Z" fill="#A06A1C" stroke="none" stroke-width="1" />
<path d="M227.9,265.7 A11.8,9.3 0 0 1 251.5,267.5 L246.1,266.6 L239.7,266.9 L233.3,264.5 Z" fill="#C68E30" stroke="none" stroke-width="1" />
<path d="M279.0,268.4 A12.4,10.4 0 0 1 303.8,270.0 L298.8,271.2 L291.4,269.5 L284.0,269.6 Z" fill="#A06A1C" stroke="none" stroke-width="1" />
<path d="M279.9,266.1 A11.5,7.9 0 0 1 302.9,267.7 L297.6,266.8 L291.4,267.1 L285.2,265.1 Z" fill="#C68E30" stroke="none" stroke-width="1" />
<path d="M291.8,273.7 A12.0,9.5 0 0 1 315.8,275.1 L311.0,276.3 L303.8,274.7 L296.6,274.9 Z" fill="#A06A1C" stroke="none" stroke-width="1" />
<path d="M292.7,271.6 A11.1,7.2 0 0 1 314.9,273.0 L309.8,272.3 L303.8,272.5 L297.8,270.7 Z" fill="#C68E30" stroke="none" stroke-width="1" />
<path d="M215.7,273.7 A8.0,12.1 0 0 1 231.7,275.5 L228.5,276.7 L223.7,274.9 L218.9,274.9 Z" fill="#A06A1C" stroke="none" stroke-width="1" />
<path d="M216.6,271.0 A7.1,9.2 0 0 1 230.8,272.9 L227.7,271.9 L223.7,272.2 L219.7,269.8 Z" fill="#C68E30" stroke="none" stroke-width="1" />
<path d="M223.7,273.7 A13.4,11.3 0 0 1 250.4,275.4 L245.1,276.6 L237.1,274.8 L229.0,274.9 Z" fill="#A06A1C" stroke="none" stroke-width="1" />
<path d="M224.6,271.2 A12.5,8.6 0 0 1 249.5,272.9 L243.7,272.0 L237.1,272.3 L230.4,270.1 Z" fill="#C68E30" stroke="none" stroke-width="1" />
<path d="M223.7,273.7 A13.4,11.3 0 0 1 250.4,275.4 L245.1,276.6 L237.1,274.8 L229.0,274.9 Z" fill="#A06A1C" stroke="none" stroke-width="1" />
<path d="M224.6,271.2 A12.5,8.6 0 0 1 249.5,272.9 L243.7,272.0 L237.1,272.3 L230.4,270.1 Z" fill="#D9A848" stroke="none" stroke-width="1" />
<path d="M315.0,328.0 A12.5,13.0 0 0 1 340.0,329.9 L335.0,331.1 L327.5,329.3 L320.0,329.2 Z" fill="#A06A1C" stroke="none" stroke-width="1" />
<path d="M315.9,325.1 A11.6,9.9 0 0 1 339.1,327.1 L333.8,326.1 L327.5,326.4 L321.2,323.8 Z" fill="#C68E30" stroke="none" stroke-width="1" />
<path d="M335.0,318.0 A13.5,15.6 0 0 1 362.0,320.3 L356.6,321.5 L348.5,319.5 L340.4,319.2 Z" fill="#A06A1C" stroke="none" stroke-width="1" />
<path d="M335.9,314.6 A12.6,11.9 0 0 1 361.1,316.9 L355.2,315.7 L348.5,316.1 L341.8,313.0 Z" fill="#C68E30" stroke="none" stroke-width="1" />
<path d="M352.0,324.0 A12.5,13.0 0 0 1 377.0,325.9 L372.0,327.1 L364.5,325.3 L357.0,325.2 Z" fill="#A06A1C" stroke="none" stroke-width="1" />
<path d="M352.9,321.1 A11.6,9.9 0 0 1 376.1,323.1 L370.8,322.1 L364.5,322.4 L358.2,319.8 Z" fill="#C68E30" stroke="none" stroke-width="1" />
<path d="M132.8,262 L137.4,262 L138.9,324.7 L130.5,324.7 Z" fill="#EFD6A2" stroke="none" stroke-width="1" />
<path d="M134.2,169.3 L134.5,167.8 L134.9,168.5 L135.9,167.5 L136.8,168.1 L137.8,168.9 L138.2,171.2 L140.2,170.5 L142.2,170.4 L143.8,171.3 L144.9,173.0 L147.1,173.4 L148.0,175.5 L150.6,176.0 L152.3,177.4 L152.7,179.9 L156.6,179.8 L157.7,181.8 L160.1,183.0 L161.7,184.8 L162.6,186.9 L164.4,188.7 L164.9,190.9 L165.8,193.0 L167.2,194.9 L168.8,196.8 L170.3,198.8 L172.4,200.6 L171.8,203.1 L173.0,205.2 L172.9,207.5 L173.3,209.8 L172.9,212.1 L173.2,214.3 L175.1,216.6 L173.8,218.9 L173.6,221.0 L173.1,223.1 L174.9,225.3 L174.0,227.4 L171.6,229.2 L173.2,231.7 L170.9,233.5 L170.4,235.6 L168.5,237.3 L165.6,238.8 L166.1,241.2 L162.6,242.3 L162.3,244.6 L162.2,246.9 L157.9,247.4 L159.1,250.5 L154.3,250.4 L153.8,252.6 L151.7,253.7 L150.3,255.3 L148.9,256.8 L147.0,257.9 L146.1,259.8 L144.7,261.2 L142.3,261.1 L140.7,261.7 L139.6,262.8 L138.9,264.3 L137.2,263.8 L136.4,264.6 L135.6,265.0 L134.7,263.9 L134.7,266.6 L134.4,266.9 L134.2,266.8 L134.1,266.6 L134.1,264.7 L133.5,265.3 L132.6,266.0 L132.0,264.7 L130.8,264.9 L129.7,264.3 L128.5,263.4 L127.6,262.0 L126.3,260.9 L123.8,261.2 L123.6,258.6 L121.7,257.8 L118.6,257.7 L118.2,255.3 L115.5,254.7 L113.5,253.3 L114.1,250.4 L111.1,249.6 L109.5,247.9 L106.2,247.0 L104.4,245.3 L102.8,243.4 L101.8,241.4 L99.9,239.7 L99.6,237.5 L101.5,234.8 L97.1,233.5 L95.6,231.6 L96.6,229.3 L94.4,227.4 L95.8,225.1 L95.6,223.1 L94.0,221.0 L93.3,218.9 L94.8,216.6 L95.2,214.3 L95.4,212.1 L93.8,209.6 L95.4,207.5 L97.2,205.5 L95.5,202.9 L97.7,201.0 L98.3,198.8 L99.9,196.9 L102.9,195.4 L101.6,192.6 L102.8,190.6 L105.7,189.3 L106.2,187.1 L107.5,185.2 L110.7,184.4 L111.3,182.1 L112.9,180.4 L113.7,178.2 L116.0,177.2 L118.3,176.3 L119.9,174.9 L121.9,174.0 L123.0,172.3 L125.9,173.0 L126.4,170.5 L128.6,171.1 L130.3,171.3 L130.6,168.5 L131.7,167.8 L132.7,168.0 L133.7,168.9 L134.0,167.8 Z" fill="#F0D399" stroke="none" stroke-width="1" />
<rect x="132.6" y="213.7" width="1.0" height="2.3" fill="#F6E6CA"/>
<rect x="102.4" y="223.7" width="1.9" height="1.1" fill="#F6E6CA"/>
<rect x="138.6" y="232.5" width="0.8" height="1.6" fill="#F6E6CA"/>
<rect x="148.4" y="219.8" width="1.7" height="1.2" fill="#F6E6CA"/>
<rect x="117.7" y="193.5" width="1.4" height="2.4" fill="#F6E6CA"/>
<rect x="141.0" y="244.6" width="1.3" height="2.1" fill="#F6E6CA"/>
<rect x="108.7" y="207.4" width="1.6" height="2.1" fill="#F6E6CA"/>
<rect x="129.8" y="191.8" width="1.1" height="1.3" fill="#F6E6CA"/>
<rect x="120.6" y="247.3" width="1.0" height="2.3" fill="#F6E6CA"/>
<rect x="160.0" y="189.2" width="1.3" height="1.7" fill="#F6E6CA"/>
<rect x="103.5" y="217.7" width="1.9" height="1.2" fill="#F6E6CA"/>
<rect x="141.4" y="194.3" width="1.5" height="2.3" fill="#F6E6CA"/>
<rect x="115.4" y="185.6" width="0.9" height="1.8" fill="#F6E6CA"/>
<rect x="103.2" y="191.5" width="1.4" height="2.4" fill="#F6E6CA"/>
<path d="M311.8,279.7 L327.2,279.7 L327.2,294 C327.2,299.5 311.8,299.5 311.8,294 Z" fill="#F4BC1C" stroke="none" stroke-width="1" />
<ellipse cx="319.5" cy="279.7" rx="7.7" ry="4.4" fill="#F4BC1C"/>
<ellipse cx="319.5" cy="280" rx="5.6" ry="2.4" fill="#F7E9C6"/>
<path d="M156.5,364.7 L158.3,359.2 L166.6,353.7 L177.7,347.2 L193.4,337.0 L207.3,332.4 L214.7,331.5 L229.5,338.9 L232.3,346.3 L228.6,352.7 L198.0,368.4 L180.5,377.7 L173.1,379.5 L161.1,374.9 L156.5,368.4 Z" fill="#D49A36" stroke="none" stroke-width="1" stroke="#D49A36" stroke-width="1.5" stroke-linejoin="round"/>
<path d="M165.7,354.6 L177.7,347.2 L187.9,352.7 L182.3,363.8 Z" fill="#E0AE4A" stroke="none" stroke-width="1" />
<path d="M187.9,355.5 L199.0,348.6 L213.8,346.7 L190.7,360.6 Z" fill="#E2B04C" stroke="none" stroke-width="1" />
<path d="M194.4,337.0 L207.3,337.9 L214.7,346.3 L199.0,348.6 L187.9,352.7 Z" fill="#D9A23E" stroke="none" stroke-width="1" />
<ellipse cx="189.3" cy="373.1" rx="3.6" ry="4.3" fill="#B07A2C"/>
<ellipse cx="189.6" cy="373.1" rx="2.3" ry="3" fill="#E6B550"/>
<ellipse cx="223.0" cy="353.2" rx="3.6" ry="4.3" fill="#B07A2C"/>
<ellipse cx="223.3" cy="353.2" rx="2.3" ry="3" fill="#E6B550"/>
<path d="M200.3,388.7 L202.1,383.2 L210.4,377.7 L221.5,371.2 L237.2,361.0 L251.1,356.4 L258.5,355.5 L273.3,362.9 L276.1,370.3 L272.4,376.7 L241.8,392.4 L224.3,401.7 L216.9,403.5 L204.9,398.9 L200.3,392.4 Z" fill="#D49A36" stroke="none" stroke-width="1" stroke="#D49A36" stroke-width="1.5" stroke-linejoin="round"/>
<path d="M209.5,378.6 L221.5,371.2 L231.7,376.7 L226.1,387.8 Z" fill="#E0AE4A" stroke="none" stroke-width="1" />
<path d="M231.7,379.5 L242.8,372.6 L257.6,370.7 L234.5,384.6 Z" fill="#E2B04C" stroke="none" stroke-width="1" />
<path d="M238.2,361.0 L251.1,361.9 L258.5,370.3 L242.8,372.6 L231.7,376.7 Z" fill="#D9A23E" stroke="none" stroke-width="1" />
<ellipse cx="233.1" cy="397.1" rx="3.6" ry="4.3" fill="#B07A2C"/>
<ellipse cx="233.4" cy="397.1" rx="2.3" ry="3" fill="#E6B550"/>
<ellipse cx="266.8" cy="377.2" rx="3.6" ry="4.3" fill="#B07A2C"/>
<ellipse cx="267.1" cy="377.2" rx="2.3" ry="3" fill="#E6B550"/>
<polygon points="290.0,379.5 327.0,358.0 327.0,369.0 290.0,390.5" fill="#EDD2AA" />
<rect x="307.5" y="377.5" width="2.3" height="2.3" fill="#F8EBD3"/>
<rect x="307.5" y="381.7" width="2.3" height="2.3" fill="#F8EBD3"/>
<rect x="311.5" y="375.1" width="2.3" height="2.3" fill="#F8EBD3"/>
<rect x="311.5" y="379.3" width="2.3" height="2.3" fill="#F8EBD3"/>
<rect x="315.5" y="372.8" width="2.3" height="2.3" fill="#F8EBD3"/>
<rect x="315.5" y="377.0" width="2.3" height="2.3" fill="#F8EBD3"/>
<rect x="319.5" y="370.4" width="2.3" height="2.3" fill="#F8EBD3"/>
<rect x="319.5" y="374.6" width="2.3" height="2.3" fill="#F8EBD3"/>
<path d="M319.5,182.0 L319.5,268.8" fill="none" stroke="#17907F" stroke-width="1.4" />
<polygon points="319.5,273.0 317.0,268.8 322.0,268.8" fill="#17907F" />
<path d="M208.8,292.4 L188.8,304.2" fill="none" stroke="#17907F" stroke-width="1.4" />
<polygon points="185.2,306.3 187.5,302.0 190.1,306.3" fill="#17907F" />
<path d="M273.0,330.0 L253.6,341.4" fill="none" stroke="#17907F" stroke-width="1.4" />
<polygon points="250.0,343.5 252.3,339.2 254.9,343.5" fill="#17907F" />
<path d="M309.4,300.5 L289.7,312.5 L309.8,323.8" fill="none" stroke="#17907F" stroke-width="1.4" stroke-linejoin="miter"/>
<polygon points="313.5,325.8 308.6,326.0 311.1,321.6" fill="#17907F" />
<path d="M353.6,344.6 L353.6,355.3" fill="none" stroke="#17907F" stroke-width="1.4" />
<polygon points="353.6,359.5 351.1,355.3 356.1,355.3" fill="#17907F" />
<path d="M329.6,374.3 L351.0,386.2" fill="none" stroke="#17907F" stroke-width="1.4" />
<polygon points="354.7,388.2 349.8,388.4 352.2,384.0" fill="#17907F" />
<path d="M83.0,332.0 L83.0,340.8" fill="none" stroke="#17907F" stroke-width="1.4" />
<polygon points="83.0,345.0 80.5,340.8 85.5,340.8" fill="#17907F" />
<path d="M123.9,355.0 L123.9,364.3" fill="none" stroke="#17907F" stroke-width="1.4" />
<polygon points="123.9,368.5 121.4,364.3 126.4,364.3" fill="#17907F" />
<path d="M132.7,380.7 L74.2,346.5" fill="none" stroke="#17907F" stroke-width="1.4" />
<polygon points="70.6,344.4 75.5,344.3 73.0,348.7" fill="#17907F" />
<path d="M139.0,384.8 L118.7,395.3" fill="none" stroke="#17907F" stroke-width="1.4" />
<polygon points="115.0,397.2 117.6,393.0 119.9,397.5" fill="#17907F" />
<path d="M222.6,431.9 L153.4,392.2" fill="none" stroke="#17907F" stroke-width="1.4" />
<polygon points="149.8,390.1 154.7,390.0 152.2,394.4" fill="#17907F" />
<circle cx="139" cy="384.5" r="1.8" fill="#fff"/>
<circle cx="329.5" cy="374" r="1.6" fill="#fff"/>
<circle cx="320.4" cy="222.4" r="7.4" fill="#fff" stroke="#D9A24A" stroke-width="1.1"/>
<text x="320.4" y="225.5" font-family="Liberation Sans" font-weight="700" font-size="8.6" fill="#C98F35" text-anchor="middle">1</text>
<circle cx="152.4" cy="330.2" r="7.4" fill="#fff" stroke="#D9A24A" stroke-width="1.1"/>
<text x="152.4" y="333.3" font-family="Liberation Sans" font-weight="700" font-size="8.6" fill="#C98F35" text-anchor="middle">2</text>
<circle cx="299.5" cy="379.7" r="7.4" fill="#fff" stroke="#D9A24A" stroke-width="1.1"/>
<text x="299.5" y="382.8" font-family="Liberation Sans" font-weight="700" font-size="8.6" fill="#C98F35" text-anchor="middle">3</text>
<path d="M181,272 C181,269 185.5,269 185.5,272 L185.5,275 L181,275 Z" fill="#B07A2C"/>
<ellipse cx="183.3" cy="271.6" rx="1.6" ry="2.2" fill="#FBF3E6"/>
<path d="M178.5,277.5 L181,274.5 L186,274.5 L189,277.5 L188,279 L187.5,289 L180,289 L179.5,279 Z" fill="#D9A548"/>
<path d="M178.3,277.3 L181,274.5 L186,274.5 L189.2,277.3 L188.2,279 L179.3,279 Z" fill="#A8701E"/>
<path d="M182,289 L182,296.5 M186,289 L186,296.5" stroke="#FBF3E6" stroke-width="1.6"/>
<path d="M178.5,279 L178,285 M188.8,279 L190.5,282" stroke="#FBF3E6" stroke-width="1.1"/>
<path d="M175.5,287 C175.5,284 180.5,284 180.5,287 L180.5,292 C179,294 177,294 175.5,292 Z" fill="#FBF3E6"/>
<path d="M189.5,281 L195,281 L196.8,289 L190.5,289 Z" fill="#FBF3E6"/>
<path d="M180.5,296 l3,0 l0,1.5 l-3,0 Z M184.8,296 l3,0 l0,1.5 l-3,0 Z" fill="#C99038"/>
<path d="M284.3,331 C284.3,327.8 289,327.8 289,331 L288.6,333.5 L284.8,333.5 Z" fill="#B07A2C"/>
<ellipse cx="285.6" cy="331.5" rx="1.4" ry="2" fill="#FBF3E6"/>
<path d="M285,334 L290.5,334 L292,342.5 L284.5,342.5 Z" fill="#E0AE50"/>
<path d="M284.5,342 L292,342 L293,353 L284.5,353 Z" fill="#C98F35"/>
<path d="M285.5,336 L283,343" stroke="#E0AE50" stroke-width="1.2"/>
<path d="M282.5,343.5 L279.5,355.5" stroke="#B8853A" stroke-width="1.2"/>
<path d="M285,353 l3,0 l0,2 l-3,0 Z M289,353 l3,0 l0,2 l-3,0 Z" fill="#FBF3E6"/>
<path d="M284.5,355 l4,0 l0,1.3 l-4,0 Z M289,355.5 l4,0 l0,1.3 l-4,0 Z" fill="#C99038"/>
<path d="M115.5,277.5 L135,277.5" fill="none" stroke="#fff" stroke-width="0.8" />
<path d="M149.6,400.4 L202.8,400.4" fill="none" stroke="#fff" stroke-width="0.8" />
<path d="M319.5,370.5 L356,370.5" fill="none" stroke="#fff" stroke-width="0.8" />
<polygon points="579.7,320.0 735.0,232.0 881.7,326.0 837.3,351.0 777.2,389.4 735.3,412.0" fill="#EFD39B" />
<polygon points="580.0,334.0 735.3,423.3 735.3,431.0 580.0,341.4" fill="#FFFFFF" />
<polygon points="580.0,341.4 735.3,431.0 735.3,438.8 580.0,348.7" fill="#E9C68C" />
<polygon points="735.3,423.3 881.7,340.0 881.7,348.0 735.3,431.0" fill="#FFFFFF" />
<polygon points="735.3,431.0 881.7,348.0 881.7,356.0 735.3,438.8" fill="#DDB983" />
<polygon points="620.4,345.0 644.2,358.5 644.2,370.5 620.4,357.0" fill="#EFD7AE" />
<path d="M621.5,346.2 l0,3 M624.6,348.0 l0,3 M627.8,349.7 l0,3 M630.9,351.5 l0,3 M634.1,353.3 l0,3 M637.2,355.1 l0,3 M640.4,356.8 l0,3 M643.5,358.6 l0,3 " fill="none" stroke="#CFA676" stroke-width="0.7" />
<polygon points="777.2,389.4 837.3,356.0 837.3,365.6 777.2,398.0" fill="#EFD7AE" />
<path d="M778.5,389.2 l0,3 M781.4,387.6 l0,3 M784.2,386.0 l0,3 M787.1,384.4 l0,3 M790.0,382.8 l0,3 M792.9,381.2 l0,3 M795.8,379.6 l0,3 M798.6,378.0 l0,3 M801.5,376.4 l0,3 M804.4,374.8 l0,3 M807.2,373.2 l0,3 M810.1,371.7 l0,3 M813.0,370.1 l0,3 M815.9,368.5 l0,3 M818.8,366.9 l0,3 M821.6,365.3 l0,3 M824.5,363.7 l0,3 M827.4,362.1 l0,3 M830.2,360.5 l0,3 M833.1,358.9 l0,3 M836.0,357.3 l0,3 " fill="none" stroke="#CFA676" stroke-width="0.7" />
<polygon points="837.3,351.0 881.7,326.0 881.7,340.0 837.3,365.6" fill="#D9B27C" />
<polygon points="786.0,250.0 870.0,230.0 870.0,330.0 786.0,326.0" fill="#F4E2C2" />
<polygon points="806.6,262.0 856.4,262.0 856.4,344.0 806.6,319.0" fill="#E7C389" />
<polygon points="856.4,258.0 867.0,252.0 867.0,350.0 856.4,344.0" fill="#F2DDB8" />
<polygon points="867.0,250.0 905.0,229.0 905.0,324.0 867.0,346.0" fill="#F3E0BF" />
<polygon points="838.6,309.5 905.0,273.0 905.0,281.0 838.6,317.5" fill="#E2BF8C" />
<polygon points="838.6,304.5 905.0,268.0 905.0,273.0 838.6,309.5" fill="#F6E6CC" />
<polygon points="751.5,140.0 756.0,140.0 870.2,204.0 870.2,262.0 751.5,190.0" fill="#E7C487" />
<polygon points="750.5,140.0 753.2,140.0 753.2,189.3 750.5,189.3" fill="#F2DDB6" />
<polygon points="870.2,213.5 904.9,198.0 904.9,242.6 870.2,262.0" fill="#F4E1C0" />
<polygon points="870.2,258.0 904.9,238.5 904.9,243.0 870.2,262.5" fill="#DDB984" />
<path d="M794.9,177.8 L815.3,188.4 L815.3,223.9 L794.9,213.3 Z" fill="none" stroke="#B07A2C" stroke-width="1.2" />
<path d="M796.9,180.8 L813.3,190.4 L813.3,223.9 M796.9,180.8 L796.9,213.3 M805.1,185.1 L805.1,218.6" fill="none" stroke="#B07A2C" stroke-width="0.8" />
<path d="M803.8,199.1 l0,7 M806.4,199.8 l0,7" fill="none" stroke="#B07A2C" stroke-width="1.3" />
<polygon points="754.3,140.0 812.0,140.0 813.9,139.4 815.9,142.5 817.8,139.9 819.7,144.6 821.7,143.7 823.6,146.9 825.5,146.9 827.5,149.1 829.4,147.6 831.4,151.4 833.3,151.6 835.2,153.4 837.2,153.8 839.1,155.8 841.0,154.0 843.0,157.7 844.9,155.1 846.8,160.3 848.8,158.6 850.7,162.4 852.6,162.5 854.6,164.3 856.5,163.5 858.5,166.5 860.4,166.8 862.3,168.8 864.3,169.4 866.2,171.1 868.1,170.4 870.1,173.5 872.0,172.3 873.9,175.6 875.9,174.6 877.8,177.8 879.7,177.0 881.7,179.9 883.6,177.1 885.5,182.4 887.5,180.0 889.4,184.5 891.4,184.1 893.3,186.5 895.2,186.4 897.2,188.6 899.1,186.9 901.0,191.0 903.0,188.8 904.9,193.0 904.9,196.0 870.2,210.0 754.3,153.9" fill="url(#grass)" />
<polygon points="870.2,209.5 904.9,195.0 904.9,200.0 870.2,214.0" fill="#FFFFFF" />
<polygon points="722.0,194.0 750.5,182.0 753.2,189.3 869.5,256.8 839.3,263.0" fill="#EFD39B" />
<polygon points="838.6,262.6 870.2,244.0 870.2,250.0 838.6,268.6" fill="#FFFFFF" />
<polygon points="785.3,231.5 838.6,262.6 838.6,278.6 785.3,248.4" fill="#E3B259" />
<polygon points="838.6,262.6 845.0,259.0 845.0,275.0 838.6,278.6" fill="#F2DDB5" />
<polygon points="785.3,273.3 838.6,300.8 838.6,319.4 785.3,291.0" fill="#E3B259" />
<polygon points="838.6,300.8 845.0,297.0 845.0,316.0 838.6,319.4" fill="#F2DDB5" />
<path d="M787.0,274.0 A12.0,9.8 0 0 1 811.0,279.0 L806.2,280.2 L799.0,276.8 L791.8,275.2 Z" fill="#A06A1C" stroke="none" stroke-width="1" />
<path d="M787.9,271.9 A11.1,7.4 0 0 1 810.1,276.9 L805.0,276.1 L799.0,274.6 L793.0,270.9 Z" fill="#C68E30" stroke="none" stroke-width="1" />
<path d="M800.0,281.3 A12.0,9.8 0 0 1 824.0,286.3 L819.2,287.5 L812.0,284.1 L804.8,282.5 Z" fill="#A06A1C" stroke="none" stroke-width="1" />
<path d="M800.9,279.2 A11.1,7.4 0 0 1 823.1,284.2 L818.0,283.4 L812.0,281.9 L806.0,278.2 Z" fill="#C68E30" stroke="none" stroke-width="1" />
<path d="M813.0,288.6 A12.0,9.8 0 0 1 837.0,293.6 L832.2,294.8 L825.0,291.4 L817.8,289.8 Z" fill="#A06A1C" stroke="none" stroke-width="1" />
<path d="M813.9,286.5 A11.1,7.4 0 0 1 836.1,291.5 L831.0,290.7 L825.0,289.2 L819.0,285.5 Z" fill="#C68E30" stroke="none" stroke-width="1" />
<path d="M826.0,295.9 A12.0,9.8 0 0 1 850.0,300.9 L845.2,302.1 L838.0,298.7 L830.8,297.1 Z" fill="#A06A1C" stroke="none" stroke-width="1" />
<path d="M826.9,293.8 A11.1,7.4 0 0 1 849.1,298.8 L844.0,298.0 L838.0,296.4 L832.0,292.8 Z" fill="#C68E30" stroke="none" stroke-width="1" />
<polygon points="719.0,194.8 721.0,194.7 722.9,197.3 724.9,195.4 726.8,199.1 728.8,199.4 730.8,201.5 732.7,200.8 734.7,203.7 736.6,203.2 738.6,205.5 740.5,204.6 742.5,207.9 744.5,207.8 746.4,209.7 748.4,209.7 750.3,212.2 752.3,210.6 754.3,214.0 756.2,214.2 758.2,216.1 760.1,216.8 762.1,218.5 764.1,218.6 766.0,220.6 768.0,220.0 769.9,222.6 771.9,221.3 773.8,224.7 775.8,223.7 777.8,226.8 779.7,226.5 781.7,229.0 783.6,229.0 785.6,231.0 785.6,324.4 720.2,287.2" fill="url(#grass)" />
<path d="M720,195.5 L785.6,231.5" fill="none" stroke="#F6E9CF" stroke-width="1" />
<path d="M718.0,194.5 A12.5,9.8 0 0 1 743.0,199.5 L738.0,200.7 L730.5,197.3 L723.0,195.7 Z" fill="#A06A1C" stroke="none" stroke-width="1" />
<path d="M718.9,192.4 A11.6,7.4 0 0 1 742.1,197.4 L736.8,196.6 L730.5,195.1 L724.2,191.4 Z" fill="#C68E30" stroke="none" stroke-width="1" />
<path d="M730.0,201.2 A12.5,9.8 0 0 1 755.0,206.2 L750.0,207.4 L742.5,204.1 L735.0,202.4 Z" fill="#A06A1C" stroke="none" stroke-width="1" />
<path d="M730.9,199.1 A11.6,7.4 0 0 1 754.1,204.1 L748.8,203.3 L742.5,201.8 L736.2,198.1 Z" fill="#C68E30" stroke="none" stroke-width="1" />
<path d="M742.0,208.0 A12.5,9.8 0 0 1 767.0,213.0 L762.0,214.2 L754.5,210.8 L747.0,209.2 Z" fill="#A06A1C" stroke="none" stroke-width="1" />
<path d="M742.9,205.9 A11.6,7.4 0 0 1 766.1,210.9 L760.8,210.1 L754.5,208.6 L748.2,204.9 Z" fill="#C68E30" stroke="none" stroke-width="1" />
<path d="M754.0,214.8 A12.5,9.8 0 0 1 779.0,219.8 L774.0,220.9 L766.5,217.6 L759.0,215.9 Z" fill="#A06A1C" stroke="none" stroke-width="1" />
<path d="M754.9,212.6 A11.6,7.4 0 0 1 778.1,217.6 L772.8,216.8 L766.5,215.3 L760.2,211.6 Z" fill="#C68E30" stroke="none" stroke-width="1" />
<path d="M766.0,221.5 A12.5,9.8 0 0 1 791.0,226.5 L786.0,227.7 L778.5,224.3 L771.0,222.7 Z" fill="#A06A1C" stroke="none" stroke-width="1" />
<path d="M766.9,219.4 A11.6,7.4 0 0 1 790.1,224.4 L784.8,223.6 L778.5,222.1 L772.2,218.4 Z" fill="#C68E30" stroke="none" stroke-width="1" />
<path d="M778.0,228.2 A12.5,9.8 0 0 1 803.0,233.2 L798.0,234.4 L790.5,231.1 L783.0,229.4 Z" fill="#A06A1C" stroke="none" stroke-width="1" />
<path d="M778.9,226.1 A11.6,7.4 0 0 1 802.1,231.1 L796.8,230.3 L790.5,228.8 L784.2,225.1 Z" fill="#C68E30" stroke="none" stroke-width="1" />
<path d="M790.0,235.0 A12.5,9.8 0 0 1 815.0,240.0 L810.0,241.2 L802.5,237.8 L795.0,236.2 Z" fill="#A06A1C" stroke="none" stroke-width="1" />
<path d="M790.9,232.9 A11.6,7.4 0 0 1 814.1,237.9 L808.8,237.1 L802.5,235.6 L796.2,231.9 Z" fill="#C68E30" stroke="none" stroke-width="1" />
<path d="M802.0,241.8 A12.5,9.8 0 0 1 827.0,246.8 L822.0,247.9 L814.5,244.6 L807.0,242.9 Z" fill="#A06A1C" stroke="none" stroke-width="1" />
<path d="M802.9,239.6 A11.6,7.4 0 0 1 826.1,244.6 L820.8,243.8 L814.5,242.3 L808.2,238.6 Z" fill="#C68E30" stroke="none" stroke-width="1" />
<path d="M814.0,248.5 A12.5,9.8 0 0 1 839.0,253.5 L834.0,254.7 L826.5,251.3 L819.0,249.7 Z" fill="#A06A1C" stroke="none" stroke-width="1" />
<path d="M814.9,246.4 A11.6,7.4 0 0 1 838.1,251.4 L832.8,250.6 L826.5,249.1 L820.2,245.4 Z" fill="#C68E30" stroke="none" stroke-width="1" />
<path d="M826.0,255.2 A12.5,9.8 0 0 1 851.0,260.2 L846.0,261.4 L838.5,258.1 L831.0,256.4 Z" fill="#A06A1C" stroke="none" stroke-width="1" />
<path d="M826.9,253.1 A11.6,7.4 0 0 1 850.1,258.1 L844.8,257.3 L838.5,255.8 L832.2,252.1 Z" fill="#C68E30" stroke="none" stroke-width="1" />
<path d="M838.0,262.0 A12.5,9.8 0 0 1 863.0,267.0 L858.0,268.2 L850.5,264.8 L843.0,263.2 Z" fill="#A06A1C" stroke="none" stroke-width="1" />
<path d="M838.9,259.9 A11.6,7.4 0 0 1 862.1,264.9 L856.8,264.1 L850.5,262.6 L844.2,258.9 Z" fill="#C68E30" stroke="none" stroke-width="1" />
<polygon points="580.0,320.0 620.4,341.0 620.4,357.0 580.0,334.0" fill="#A86E1F" />
<polygon points="580.0,320.0 582.0,314.7 584.1,318.4 586.1,315.5 588.1,316.4 590.1,313.8 592.2,314.0 594.2,309.1 596.2,312.1 598.3,310.1 600.3,310.2 602.3,307.6 604.3,307.8 606.4,303.3 608.4,305.8 610.4,303.2 612.5,303.6 614.5,301.9 616.5,301.8 618.5,299.3 620.6,299.7 622.6,298.4 624.6,297.9 626.6,300.8 628.6,297.5 630.5,303.1 632.5,301.5 634.5,305.5 636.5,305.2 638.5,307.3 640.5,304.4 642.5,309.8 644.4,309.3 646.4,311.7 648.4,309.5 650.4,314.3 652.4,313.9 654.4,316.5 656.3,313.3 658.3,318.5 660.3,317.5 662.3,320.4 620.4,342.0" fill="url(#grass)" />
<path d="M594.0,317.0 A15.0,10.4 0 0 1 624.0,319.0 L618.0,320.2 L609.0,318.3 L600.0,318.2 Z" fill="#A06A1C" stroke="none" stroke-width="1" />
<path d="M594.9,314.7 A14.1,7.9 0 0 1 623.1,316.7 L616.5,315.9 L609.0,315.9 L601.5,313.7 Z" fill="#C68E30" stroke="none" stroke-width="1" />
<path d="M628.0,317.0 A16.0,11.7 0 0 1 660.0,320.0 L653.6,321.2 L644.0,318.8 L634.4,318.2 Z" fill="#A06A1C" stroke="none" stroke-width="1" />
<path d="M628.9,314.4 A15.1,8.9 0 0 1 659.1,317.4 L652.0,316.5 L644.0,316.2 L636.0,313.3 Z" fill="#C68E30" stroke="none" stroke-width="1" />
<path d="M618.5,286 L622.6,286 L623.2,314 L617.9,314 Z" fill="#EFD6A2" stroke="none" stroke-width="1" />
<path d="M620.0,224.9 L620.1,225.0 L620.4,225.2 L621.1,224.3 L621.7,225.0 L622.3,225.5 L623.0,226.2 L623.9,226.7 L624.8,227.3 L626.1,227.5 L626.5,229.1 L628.3,229.0 L629.2,230.0 L630.8,230.5 L631.9,231.5 L633.3,232.3 L635.1,232.9 L634.1,235.4 L637.5,235.1 L637.6,236.9 L639.2,237.8 L640.7,238.9 L640.9,240.5 L641.4,242.0 L642.2,243.4 L644.0,244.5 L644.9,245.8 L644.4,247.6 L645.5,249.0 L645.1,250.6 L646.3,252.0 L646.0,253.6 L645.9,255.2 L646.5,256.7 L646.8,258.3 L647.8,259.9 L646.8,261.2 L647.2,262.5 L646.1,263.7 L644.3,264.8 L646.5,266.4 L644.8,267.5 L644.3,268.7 L644.0,270.0 L643.5,271.3 L640.3,271.8 L640.9,273.3 L640.4,274.6 L639.6,275.8 L637.8,276.6 L635.2,276.9 L636.0,278.8 L635.3,280.0 L633.2,280.4 L632.9,281.9 L630.7,282.0 L630.6,283.7 L629.4,284.5 L627.4,284.3 L625.8,284.4 L625.7,286.0 L624.6,286.4 L623.5,286.5 L622.4,286.3 L622.1,287.6 L621.6,288.3 L621.0,288.2 L620.5,288.2 L620.1,287.6 L620.1,289.0 L620.0,287.9 L620.0,288.6 L619.8,288.2 L619.4,288.8 L618.9,288.5 L618.6,287.7 L617.7,288.0 L617.4,286.8 L616.0,287.4 L615.0,286.9 L614.6,285.6 L613.3,285.4 L612.4,284.5 L610.7,284.3 L609.8,283.4 L608.4,282.7 L607.1,281.9 L606.5,280.6 L604.6,280.1 L604.2,278.7 L602.2,278.1 L600.9,277.2 L599.9,276.0 L599.6,274.6 L598.4,273.6 L596.9,272.6 L597.4,271.0 L596.3,269.9 L595.9,268.7 L595.0,267.5 L593.5,266.4 L594.1,265.0 L593.5,263.7 L592.2,262.5 L592.5,261.2 L592.3,259.9 L592.3,258.3 L592.5,256.7 L593.4,255.2 L592.9,253.5 L592.9,251.9 L594.8,250.6 L595.8,249.2 L595.1,247.5 L595.0,245.8 L597.1,244.8 L596.5,242.9 L599.7,242.4 L598.2,240.1 L599.6,239.0 L600.4,237.6 L601.6,236.5 L603.4,235.6 L604.5,234.5 L606.5,234.0 L606.4,232.1 L608.3,231.6 L609.2,230.5 L610.9,230.1 L611.8,229.1 L612.9,228.4 L614.8,228.7 L614.8,226.7 L615.7,225.9 L616.9,226.0 L617.5,225.2 L618.4,225.0 L618.9,224.3 L619.6,225.1 L619.9,224.7 Z" fill="#F0D399" stroke="none" stroke-width="1" />
<polygon points="644.2,361.0 735.3,412.0 735.3,423.3 644.2,370.5" fill="#A86E1F" />
<polygon points="735.3,412.0 777.2,389.4 777.2,398.0 735.3,423.3" fill="#B47A2A" />
<polygon points="644.2,361.0 646.1,359.0 648.1,358.8 650.0,352.2 651.9,356.7 653.8,351.5 655.8,354.4 657.7,348.6 659.6,352.4 661.5,349.1 663.5,349.8 665.4,344.6 667.3,347.5 669.3,344.9 671.2,345.6 673.1,339.4 675.0,343.4 677.0,340.2 678.9,341.3 680.8,338.3 682.7,338.5 684.7,335.7 686.6,336.2 688.6,334.8 690.5,338.4 692.5,338.3 694.5,340.8 696.4,338.5 698.4,342.8 700.4,341.7 702.4,345.5 704.3,340.4 706.3,347.5 708.3,344.3 710.2,349.6 712.2,349.3 714.2,351.4 716.1,351.9 718.1,354.1 720.1,350.8 722.1,356.3 724.0,356.2 726.0,358.3 728.0,356.3 729.9,360.5 731.9,359.3 733.9,362.9 735.8,362.5 737.8,364.7 739.8,361.4 741.7,367.1 743.7,363.5 745.7,369.2 747.7,365.4 749.6,371.5 751.6,369.9 753.6,373.5 755.5,369.1 757.5,375.8 759.5,373.9 761.4,377.9 763.4,373.6 765.4,379.9 767.4,377.2 769.3,381.9 771.3,379.6 773.3,384.2 775.2,384.1 777.2,386.0 777.2,389.4 735.3,412.0" fill="url(#grass)" />
<polygon points="670.1,360.0 692.8,347.1 714.0,358.5 691.8,373.0" fill="#FFFFFF" />
<path d="M767.3,314.6 L703,352.3" fill="none" stroke="#FFFFFF" stroke-width="3.2" />
<path d="M767.3,312.6 L703,350.3" fill="none" stroke="#B07A2C" stroke-width="0.8" />
<path d="M767.3,315.6 L705.6,351.3" fill="none" stroke="#17907F" stroke-width="1.3" />
<polygon points="702.0,353.4 704.4,349.1 706.9,353.5" fill="#17907F" />
<path d="M754.3,147.4 L754.3,183.0 L726.4,198.7 L726.4,237.9" fill="none" stroke="#17907F" stroke-width="1.4" stroke-linejoin="miter"/>
<polygon points="726.4,242.1 723.9,237.9 728.9,237.9" fill="#17907F" />
<path d="M768.2,221 L768.2,311" fill="none" stroke="#FFFFFF" stroke-width="1.2" />
<path d="M766.4,220.0 L766.4,306.3" fill="none" stroke="#17907F" stroke-width="1.4" />
<polygon points="766.4,310.5 763.9,306.3 768.9,306.3" fill="#17907F" />
<path d="M785.3,242.2 L836.8,270.6 L836.8,311.4 L789.0,284.2" fill="none" stroke="#17907F" stroke-width="1.4" stroke-linejoin="miter"/>
<polygon points="785.3,282.1 790.2,282.0 787.7,286.4" fill="#17907F" />
<path d="M873.0,219.0 L873.0,251.8" fill="none" stroke="#17907F" stroke-width="1.4" />
<polygon points="873.0,256.0 870.5,251.8 875.5,251.8" fill="#17907F" />
<path d="M863.4,262.6 L863.4,354.6" fill="none" stroke="#FFFFFF" stroke-width="1.2" />
<path d="M863.2,262.6 L863.2,354.6 L856.9,358.6" fill="none" stroke="#17907F" stroke-width="1.4" stroke-linejoin="miter"/>
<polygon points="853.4,360.8 855.6,356.4 858.3,360.7" fill="#17907F" />
<circle cx="747.2" cy="325.3" r="7.4" fill="#fff" stroke="#D9A24A" stroke-width="1.1"/>
<text x="747.2" y="328.4" font-family="Liberation Sans" font-weight="700" font-size="8.6" fill="#C98F35" text-anchor="middle">1</text>
<circle cx="616" cy="320.8" r="7.4" fill="#fff" stroke="#D9A24A" stroke-width="1.1"/>
<text x="616" y="323.9" font-family="Liberation Sans" font-weight="700" font-size="8.6" fill="#C98F35" text-anchor="middle">2</text>
<circle cx="799.3" cy="389.2" r="7.4" fill="#fff" stroke="#D9A24A" stroke-width="1.1"/>
<text x="799.3" y="392.3" font-family="Liberation Sans" font-weight="700" font-size="8.6" fill="#C98F35" text-anchor="middle">3</text>
<path d="M778.5,334 C778.5,331 783,331 783,334 L782.6,335.5 L778.9,335.5 Z" fill="#B07A2C"/>
<ellipse cx="780.7" cy="335.3" rx="1.6" ry="2.1" fill="#FBF3E6"/>
<path d="M776.5,338.5 L778.5,337.4 L783,337.4 L785,338.5 L785,345.5 L776.5,345.5 Z" fill="#A8701E"/>
<path d="M777.3,345.5 L784.5,345.5 L784.5,354 L777.3,354 Z" fill="#D9A548"/>
<path d="M776,341 L775.8,350 M785.6,341 L785.8,350 M779,354 L779,361 M783,354 L783,361" stroke="#FBF3E6" stroke-width="1.4"/>
<path d="M776.8,361 l3,0 l0,1.8 l-3.5,0 Z M782.2,361 l3,0 l0.6,1.8 l-3.6,0 Z" fill="#A8701E"/>
<path d="M679,268 C679,264.5 683.5,264.5 683.5,268 L683.5,272 L679.5,272 Z" fill="#B07A2C"/>
<ellipse cx="680.8" cy="268.6" rx="1.3" ry="1.9" fill="#FBF3E6"/>
<path d="M678,271 L684,271 L685.5,281 L678.5,281 Z" fill="#A8701E"/>
<path d="M679.5,280.5 L685,280 L687,285.5 L680.5,286.5 Z" fill="#D9A548"/>
<path d="M681,286 L680.5,293 M684.5,286 L687.5,291" stroke="#FBF3E6" stroke-width="1.4"/>
<path d="M677.5,276 L676,279" stroke="#A8701E" stroke-width="1"/>
<path d="M669.5,286 L676,281.5 L679,285 L676.5,290.5 L671,291 Z" fill="#F4BC1C"/>
<path d="M672.5,283.5 C673.5,280 678,279.5 679,283 Z" fill="#A8701E"/>
<path d="M670,291 l-1,3 M676,290 l-0.8,4" stroke="#B07A2C" stroke-width="0.9"/>
<ellipse cx="827.5" cy="226" rx="1.7" ry="2.2" fill="#FBF3E6"/>
<path d="M826,224.5 C826,222 829.5,222 829.5,224.5 L829.5,227 L828.5,227 Z" fill="#D39A3E"/>
<path d="M824,230.5 L826.5,228.5 L830,228.5 L832.5,232 L832,236.5 L824.5,236.5 L823,233 Z" fill="#F4BC1C"/>
<path d="M600.5,231 L600.5,320.5" fill="none" stroke="#FFFFFF" stroke-width="0.8" />
<path d="M682,204.5 L722,204.5" fill="none" stroke="#FFFFFF" stroke-width="0.8" />
<path d="M858,190 L890,190" fill="none" stroke="#FFFFFF" stroke-width="0.8" />
<path d="M840,300.3 L892.6,300.3" fill="none" stroke="#FFFFFF" stroke-width="0.8" />
<path d="M771.4,312.6 L771.4,364 L847,364" fill="none" stroke="#FFFFFF" stroke-width="0.8" />
<path d="M792.5,403.9 L883,403.9" fill="none" stroke="#FFFFFF" stroke-width="0.8" />
<path d="M619.8,351.4 L640.4,351.4" fill="none" stroke="#FFFFFF" stroke-width="0.8" />
<path d="M664.8,401.7 L723.8,401.7" fill="none" stroke="#FFFFFF" stroke-width="0.8" />
<circle cx="600.5" cy="320.5" r="1.3" fill="#fff"/>
<circle cx="722" cy="204.5" r="1.3" fill="#fff"/>
<circle cx="858" cy="190" r="1.3" fill="#fff"/>
<circle cx="840" cy="300.3" r="1.3" fill="#fff"/>
<circle cx="771.4" cy="312.6" r="1.3" fill="#fff"/>
<circle cx="792.5" cy="403.9" r="1.3" fill="#fff"/>
<circle cx="640.4" cy="351.4" r="1.3" fill="#fff"/>
<circle cx="723.8" cy="401.7" r="1.3" fill="#fff"/>
</svg>
<div style="position:absolute;left:22px;top:277px;width:93.5px;height:43.30000000000001px;background:#fff"></div><div class="t" style="left:28.2px;top:283.63px;font-size:6.6px;line-height:7.37px;font-weight:400;color:#34343f;transform:scaleX(0.98);-webkit-text-stroke:0.12px #34343f;">Высадка озеленения</div><div class="t" style="left:28.2px;top:291.43px;font-size:6.6px;line-height:7.37px;font-weight:400;color:#34343f;transform:scaleX(0.98);-webkit-text-stroke:0.12px #34343f;">с крупной корневой</div><div class="t" style="left:28.2px;top:299.43px;font-size:6.6px;line-height:7.37px;font-weight:400;color:#34343f;transform:scaleX(0.98);-webkit-text-stroke:0.12px #34343f;">системой для замедления</div><div class="t" style="left:28.2px;top:307.63px;font-size:6.6px;line-height:7.37px;font-weight:400;color:#34343f;transform:scaleX(0.98);-webkit-text-stroke:0.12px #34343f;">потока</div><div style="position:absolute;left:20.5px;top:400px;width:129.1px;height:34.5px;background:#fff"></div><div class="t" style="left:27.5px;top:405.93px;font-size:6.6px;line-height:7.37px;font-weight:400;color:#34343f;transform:scaleX(0.98);-webkit-text-stroke:0.12px #34343f;">Проницаемое мощение на парковке,</div><div class="t" style="left:27.5px;top:413.73px;font-size:6.6px;line-height:7.37px;font-weight:400;color:#34343f;transform:scaleX(0.98);-webkit-text-stroke:0.12px #34343f;">позволяющее воде свободно прохо-</div><div class="t" style="left:27.5px;top:421.83px;font-size:6.6px;line-height:7.37px;font-weight:400;color:#34343f;transform:scaleX(0.98);-webkit-text-stroke:0.12px #34343f;">дить через поверхность</div><div style="position:absolute;left:356px;top:370px;width:73px;height:27px;background:#fff"></div><div class="t" style="left:362.3px;top:377.13px;font-size:6.6px;line-height:7.37px;font-weight:400;color:#34343f;transform:scaleX(0.98);-webkit-text-stroke:0.12px #34343f;">Инфильтрационные</div><div class="t" style="left:362.3px;top:384.73px;font-size:6.6px;line-height:7.37px;font-weight:400;color:#34343f;transform:scaleX(0.98);-webkit-text-stroke:0.12px #34343f;">модули</div><div style="position:absolute;left:544px;top:204.2px;width:57.299999999999955px;height:26.900000000000006px;background:#fff"></div><div class="t" style="left:549.7px;top:209.53px;font-size:6.6px;line-height:7.37px;font-weight:400;color:#34343f;transform:scaleX(0.98);-webkit-text-stroke:0.12px #34343f;">Приподнятый</div><div class="t" style="left:549.7px;top:217.63px;font-size:6.6px;line-height:7.37px;font-weight:400;color:#34343f;transform:scaleX(0.98);-webkit-text-stroke:0.12px #34343f;">дождевой сад</div><div style="position:absolute;left:616px;top:204.2px;width:65.79999999999995px;height:26.900000000000006px;background:#fff"></div><div class="t" style="left:622.6px;top:209.53px;font-size:6.6px;line-height:7.37px;font-weight:400;color:#34343f;transform:scaleX(0.98);-webkit-text-stroke:0.12px #34343f;">Вертикальное</div><div class="t" style="left:622.6px;top:217.63px;font-size:6.6px;line-height:7.37px;font-weight:400;color:#34343f;transform:scaleX(0.98);-webkit-text-stroke:0.12px #34343f;">озеленение</div><div style="position:absolute;left:890px;top:147.2px;width:60.799999999999955px;height:42.80000000000001px;background:#fff"></div><div class="t" style="left:896.3px;top:152.73px;font-size:6.6px;line-height:7.37px;font-weight:400;color:#34343f;transform:scaleX(0.98);-webkit-text-stroke:0.12px #34343f;">Озеленённая</div><div class="t" style="left:896.3px;top:160.83px;font-size:6.6px;line-height:7.37px;font-weight:400;color:#34343f;transform:scaleX(0.98);-webkit-text-stroke:0.12px #34343f;">кровля для</div><div class="t" style="left:896.3px;top:168.83px;font-size:6.6px;line-height:7.37px;font-weight:400;color:#34343f;transform:scaleX(0.98);-webkit-text-stroke:0.12px #34343f;">замедления</div><div class="t" style="left:896.3px;top:176.93px;font-size:6.6px;line-height:7.37px;font-weight:400;color:#34343f;transform:scaleX(0.98);-webkit-text-stroke:0.12px #34343f;">дождевых вод</div><div style="position:absolute;left:896.5px;top:210.3px;width:53.0px;height:26.599999999999994px;background:#fff"></div><div class="t" style="left:903px;top:216.63px;font-size:6.6px;line-height:7.37px;font-weight:400;color:#34343f;transform:scaleX(0.98);-webkit-text-stroke:0.12px #34343f;">Хранилище</div><div class="t" style="left:903px;top:224.43px;font-size:6.6px;line-height:7.37px;font-weight:400;color:#34343f;transform:scaleX(0.98);-webkit-text-stroke:0.12px #34343f;">воды</div><div style="position:absolute;left:875px;top:263px;width:77px;height:31.30000000000001px;background:#fff"></div><div class="t" style="left:881.1px;top:268.23px;font-size:6.6px;line-height:7.37px;font-weight:400;color:#34343f;transform:scaleX(0.98);-webkit-text-stroke:0.12px #34343f;">Хранилище воды под</div><div class="t" style="left:881.1px;top:276.03px;font-size:6.6px;line-height:7.37px;font-weight:400;color:#34343f;transform:scaleX(0.98);-webkit-text-stroke:0.12px #34343f;">террасой на крыше</div><div style="position:absolute;left:892.6px;top:299.6px;width:58.19999999999993px;height:26.799999999999955px;background:#fff"></div><div class="t" style="left:899.1px;top:304.83px;font-size:6.6px;line-height:7.37px;font-weight:400;color:#34343f;transform:scaleX(0.98);-webkit-text-stroke:0.12px #34343f;">Контейнерное</div><div class="t" style="left:899.1px;top:313.13px;font-size:6.6px;line-height:7.37px;font-weight:400;color:#34343f;transform:scaleX(0.98);-webkit-text-stroke:0.12px #34343f;">озеленение</div><div style="position:absolute;left:847px;top:364px;width:104.29999999999995px;height:34.60000000000002px;background:#fff"></div><div class="t" style="left:853.5px;top:369.23px;font-size:6.6px;line-height:7.37px;font-weight:400;color:#34343f;transform:scaleX(0.98);-webkit-text-stroke:0.12px #34343f;">Функция подачи воды</div><div class="t" style="left:853.5px;top:377.33px;font-size:6.6px;line-height:7.37px;font-weight:400;color:#34343f;transform:scaleX(0.98);-webkit-text-stroke:0.12px #34343f;">самотёком по вертикальному</div><div class="t" style="left:853.5px;top:385.43px;font-size:6.6px;line-height:7.37px;font-weight:400;color:#34343f;transform:scaleX(0.98);-webkit-text-stroke:0.12px #34343f;">озеленению во время дождя</div><div style="position:absolute;left:883px;top:403.9px;width:68.29999999999995px;height:29.900000000000034px;background:#fff"></div><div class="t" style="left:890px;top:409.03px;font-size:6.6px;line-height:7.37px;font-weight:400;color:#34343f;transform:scaleX(0.98);-webkit-text-stroke:0.12px #34343f;">Хранилище</div><div class="t" style="left:890px;top:416.93px;font-size:6.6px;line-height:7.37px;font-weight:400;color:#34343f;transform:scaleX(0.98);-webkit-text-stroke:0.12px #34343f;">дождевых стоков</div><div style="position:absolute;left:538.5px;top:351.4px;width:81.29999999999995px;height:34.30000000000001px;background:#fff"></div><div class="t" style="left:544.6px;top:357.93px;font-size:6.6px;line-height:7.37px;font-weight:400;color:#34343f;transform:scaleX(0.98);-webkit-text-stroke:0.12px #34343f;">Проницаемая поверх-</div><div class="t" style="left:544.6px;top:365.63px;font-size:6.6px;line-height:7.37px;font-weight:400;color:#34343f;transform:scaleX(0.98);-webkit-text-stroke:0.12px #34343f;">ность (проницаемое</div><div class="t" style="left:544.6px;top:373.63px;font-size:6.6px;line-height:7.37px;font-weight:400;color:#34343f;transform:scaleX(0.98);-webkit-text-stroke:0.12px #34343f;">мощение)</div><div style="position:absolute;left:583.4px;top:401.7px;width:81.39999999999998px;height:31.0px;background:#fff"></div><div class="t" style="left:589.8px;top:407.53px;font-size:6.6px;line-height:7.37px;font-weight:400;color:#34343f;transform:scaleX(0.98);-webkit-text-stroke:0.12px #34343f;">Проницаемая</div><div class="t" style="left:589.8px;top:415.73px;font-size:6.6px;line-height:7.37px;font-weight:400;color:#34343f;transform:scaleX(0.98);-webkit-text-stroke:0.12px #34343f;">поверхность (газон)</div>
<svg style="position:absolute;left:0;top:0" width="974" height="140" viewBox="0 0 974 140">
<g fill="none" stroke="#D6A044" stroke-width="1.05" stroke-linejoin="miter">
<path d="M14.6,17.3 L24,17.3 L50,41.9 L50,50.7 L40.6,50.7 L14.6,26 Z"/>
<path d="M40.6,17.3 L50,17.3 L50,26 L24,50.7 L14.6,50.7 L14.6,41.7 Z"/>
</g>
<g fill="#F2D59C">
<circle cx="429.5" cy="23.2" r="8"/><circle cx="429.5" cy="41.8" r="8"/><circle cx="429.6" cy="60.3" r="8"/><circle cx="429.6" cy="78.6" r="8"/><circle cx="429.6" cy="97.4" r="8"/>
</g>
<g fill="#D4982F" stroke="none">
<circle cx="429.5" cy="23.2" r="2.9"/>
<path d="M432.00,23.20 L435.10,23.20 M431.27,24.97 L433.46,27.16 M429.50,25.70 L429.50,28.80 M427.73,24.97 L425.54,27.16 M427.00,23.20 L423.90,23.20 M427.73,21.43 L425.54,19.24 M429.50,20.70 L429.50,17.60 M431.27,21.43 L433.46,19.24 " stroke="#D4982F" stroke-width="1.1"/>
<path d="M429.5,45.5 C426,45 423.3,41.5 423.6,37.2 C426.5,37.5 428.8,39.5 429.5,41.5 C430.2,39.5 432.5,37.5 435.4,37.2 C435.7,41.5 433,45 429.5,45.5 Z M429.1,45 L429.9,45 L429.7,48.2 L429.3,48.2 Z"/>
<path d="M424.5,58.3 C426,56 427.8,56 429.5,57.5 C431.2,59 433,59 434.6,56.8 M424.5,62.8 C426,60.5 427.8,60.5 429.5,62 C431.2,63.5 433,63.5 434.6,61.3" fill="none" stroke="#D4982F" stroke-width="1.3"/>
<path d="M425.2,78.6 A4.4,4.4 0 1 1 429.6,83.0 A2.6,2.6 0 1 1 432.2,80.4" fill="none" stroke="#D4982F" stroke-width="1.3" transform="rotate(-30 429.6 78.6)"/>
<path d="M432.4,90.8 L425.8,98.6 L429.0,98.6 L427.2,104.4 L433.6,96.2 L430.4,96.2 Z"/>
</g>
</svg>
<div class="t" style="left:68.9px;top:15.17px;font-size:11.3px;line-height:12.62px;font-weight:700;color:#D39834;transform:scaleX(0.91);-webkit-text-stroke:0.2px #D39834;">ИНФОРМАЦИОННЫЕ ОБЗОРЫ</div><div class="t" style="left:68px;top:29.35px;font-size:18.4px;line-height:20.55px;font-weight:700;color:#0d0d12;transform:scaleX(0.935);-webkit-text-stroke:0.35px #0d0d12;">Виды биодренажных сооружений</div><div class="t" style="left:14px;top:102.54px;font-size:8.8px;line-height:9.83px;font-weight:700;color:#0a0a0a;transform:scaleX(0.93);-webkit-text-stroke:0.3px #0a0a0a;">Пример организации дренажной системы</div><div class="t" style="left:14px;top:112.74px;font-size:8.8px;line-height:9.83px;font-weight:700;color:#0a0a0a;transform:scaleX(0.93);-webkit-text-stroke:0.3px #0a0a0a;">с использованием биодренажных сооружений,</div><div class="t" style="left:14px;top:122.94px;font-size:8.8px;line-height:9.83px;font-weight:700;color:#0a0a0a;transform:scaleX(0.93);-webkit-text-stroke:0.3px #0a0a0a;">инфильтрационных установок</div><div class="t" style="left:535px;top:102.54px;font-size:8.8px;line-height:9.83px;font-weight:700;color:#0a0a0a;transform:scaleX(0.93);-webkit-text-stroke:0.3px #0a0a0a;">Пример организации дренажной системы</div><div class="t" style="left:535px;top:112.74px;font-size:8.8px;line-height:9.83px;font-weight:700;color:#0a0a0a;transform:scaleX(0.93);-webkit-text-stroke:0.3px #0a0a0a;">с использованием озеленённой кровли</div><div class="t" style="left:535px;top:122.94px;font-size:8.8px;line-height:9.83px;font-weight:700;color:#0a0a0a;transform:scaleX(0.93);-webkit-text-stroke:0.3px #0a0a0a;">и вертикального озеленения</div><div class="t" style="left:14px;top:464.65px;font-size:8.9px;line-height:9.94px;font-weight:700;color:#0a0a0a;transform:scaleX(0.89);-webkit-text-stroke:0.3px #0a0a0a;">Принципы работы</div><div class="t" style="left:535px;top:464.65px;font-size:8.9px;line-height:9.94px;font-weight:700;color:#0a0a0a;transform:scaleX(0.89);-webkit-text-stroke:0.3px #0a0a0a;">Принципы работы</div><div class="t" style="left:14px;top:479.25px;font-size:8.9px;line-height:9.94px;font-weight:700;color:#D49A36;transform:scaleX(0.95);-webkit-text-stroke:0.2px #D49A36;">1.</div><div class="t" style="left:24px;top:479.43px;font-size:8.7px;line-height:9.72px;font-weight:400;color:#1f1f24;transform:scaleX(0.952);-webkit-text-stroke:0.25px #1f1f24;">Дождевые стоки с крыши скапливаются</div><div class="t" style="left:24px;top:489.78px;font-size:8.7px;line-height:9.72px;font-weight:400;color:#1f1f24;transform:scaleX(0.952);-webkit-text-stroke:0.25px #1f1f24;">в водостоке и поступают в прилегающее</div><div class="t" style="left:24px;top:500.13px;font-size:8.7px;line-height:9.72px;font-weight:400;color:#1f1f24;transform:scaleX(0.952);-webkit-text-stroke:0.25px #1f1f24;">биодренажное сооружение. После очистки</div><div class="t" style="left:24px;top:510.48px;font-size:8.7px;line-height:9.72px;font-weight:400;color:#1f1f24;transform:scaleX(0.952);-webkit-text-stroke:0.25px #1f1f24;">в фильтрационном слое через дренажный слой</div><div class="t" style="left:24px;top:520.83px;font-size:8.7px;line-height:9.72px;font-weight:400;color:#1f1f24;transform:scaleX(0.952);-webkit-text-stroke:0.25px #1f1f24;">и перфорированную дренажную трубу попадают</div><div class="t" style="left:24px;top:531.18px;font-size:8.7px;line-height:9.72px;font-weight:400;color:#1f1f24;transform:scaleX(0.952);-webkit-text-stroke:0.25px #1f1f24;">в выпуск ливневой канализации.</div><div class="t" style="left:14px;top:545.55px;font-size:8.9px;line-height:9.94px;font-weight:700;color:#D49A36;transform:scaleX(0.95);-webkit-text-stroke:0.2px #D49A36;">2.</div><div class="t" style="left:24px;top:545.73px;font-size:8.7px;line-height:9.72px;font-weight:400;color:#1f1f24;transform:scaleX(0.952);-webkit-text-stroke:0.25px #1f1f24;">Биодренажное сооружение через впускные</div><div class="t" style="left:24px;top:556.08px;font-size:8.7px;line-height:9.72px;font-weight:400;color:#1f1f24;transform:scaleX(0.952);-webkit-text-stroke:0.25px #1f1f24;">отверстия отводит воду с тротуара, проезжей</div><div class="t" style="left:24px;top:566.43px;font-size:8.7px;line-height:9.72px;font-weight:400;color:#1f1f24;transform:scaleX(0.952);-webkit-text-stroke:0.25px #1f1f24;">части и прилегающей парковки через дренажное</div><div class="t" style="left:24px;top:576.78px;font-size:8.7px;line-height:9.72px;font-weight:400;color:#1f1f24;transform:scaleX(0.952);-webkit-text-stroke:0.25px #1f1f24;">покрытие. После очистки в фильтрационном</div><div class="t" style="left:24px;top:587.13px;font-size:8.7px;line-height:9.72px;font-weight:400;color:#1f1f24;transform:scaleX(0.952);-webkit-text-stroke:0.25px #1f1f24;">слое через дренажный слой и перфорированную</div><div class="t" style="left:24px;top:597.48px;font-size:8.7px;line-height:9.72px;font-weight:400;color:#1f1f24;transform:scaleX(0.952);-webkit-text-stroke:0.25px #1f1f24;">трубу отводит в выпуск ливневой канализации</div><div class="t" style="left:24px;top:607.83px;font-size:8.7px;line-height:9.72px;font-weight:400;color:#1f1f24;transform:scaleX(0.952);-webkit-text-stroke:0.25px #1f1f24;">или в инфильтрационные модули, или резервуары,</div><div class="t" style="left:24px;top:618.18px;font-size:8.7px;line-height:9.72px;font-weight:400;color:#1f1f24;transform:scaleX(0.952);-webkit-text-stroke:0.25px #1f1f24;">служащие для накопления воды.</div><div class="t" style="left:230px;top:479.25px;font-size:8.9px;line-height:9.94px;font-weight:700;color:#D49A36;transform:scaleX(0.95);-webkit-text-stroke:0.2px #D49A36;">3.</div><div class="t" style="left:240px;top:479.43px;font-size:8.7px;line-height:9.72px;font-weight:400;color:#1f1f24;transform:scaleX(0.952);-webkit-text-stroke:0.25px #1f1f24;">Дождевая и талая вода с тротуаров</div><div class="t" style="left:240px;top:489.78px;font-size:8.7px;line-height:9.72px;font-weight:400;color:#1f1f24;transform:scaleX(0.952);-webkit-text-stroke:0.25px #1f1f24;">через лотки водоотведения, дренажные</div><div class="t" style="left:240px;top:500.13px;font-size:8.7px;line-height:9.72px;font-weight:400;color:#1f1f24;transform:scaleX(0.952);-webkit-text-stroke:0.25px #1f1f24;">бордюры или дренажные колодцы попадает</div><div class="t" style="left:240px;top:510.48px;font-size:8.7px;line-height:9.72px;font-weight:400;color:#1f1f24;transform:scaleX(0.952);-webkit-text-stroke:0.25px #1f1f24;">в инфильтрационные модули.</div><div class="t" style="left:535px;top:479.25px;font-size:8.9px;line-height:9.94px;font-weight:700;color:#D49A36;transform:scaleX(0.95);-webkit-text-stroke:0.2px #D49A36;">1.</div><div class="t" style="left:545px;top:479.43px;font-size:8.7px;line-height:9.72px;font-weight:400;color:#1f1f24;transform:scaleX(0.952);-webkit-text-stroke:0.25px #1f1f24;">Дождевые стоки замедляются и скапливаются</div><div class="t" style="left:545px;top:489.78px;font-size:8.7px;line-height:9.72px;font-weight:400;color:#1f1f24;transform:scaleX(0.952);-webkit-text-stroke:0.25px #1f1f24;">в озеленённой кровле, откуда по системе</div><div class="t" style="left:545px;top:500.13px;font-size:8.7px;line-height:9.72px;font-weight:400;color:#1f1f24;transform:scaleX(0.952);-webkit-text-stroke:0.25px #1f1f24;">водоотведения, встроенной в конструкцию здания,</div><div class="t" style="left:545px;top:510.48px;font-size:8.7px;line-height:9.72px;font-weight:400;color:#1f1f24;transform:scaleX(0.952);-webkit-text-stroke:0.25px #1f1f24;">или самотёком по вертикальному озеленению</div><div class="t" style="left:545px;top:520.83px;font-size:8.7px;line-height:9.72px;font-weight:400;color:#1f1f24;transform:scaleX(0.952);-webkit-text-stroke:0.25px #1f1f24;">на фасаде попадают через водоотводный лоток</div><div class="t" style="left:545px;top:531.18px;font-size:8.7px;line-height:9.72px;font-weight:400;color:#1f1f24;transform:scaleX(0.952);-webkit-text-stroke:0.25px #1f1f24;">в технический бассейн, служащий элементом</div><div class="t" style="left:545px;top:541.53px;font-size:8.7px;line-height:9.72px;font-weight:400;color:#1f1f24;transform:scaleX(0.952);-webkit-text-stroke:0.25px #1f1f24;">повышения микроклиматического комфорта.</div><div class="t" style="left:535px;top:553.95px;font-size:8.9px;line-height:9.94px;font-weight:700;color:#D49A36;transform:scaleX(0.95);-webkit-text-stroke:0.2px #D49A36;">2.</div><div class="t" style="left:545px;top:554.13px;font-size:8.7px;line-height:9.72px;font-weight:400;color:#1f1f24;transform:scaleX(0.952);-webkit-text-stroke:0.25px #1f1f24;">Биодренажное сооружение через впускные</div><div class="t" style="left:545px;top:564.48px;font-size:8.7px;line-height:9.72px;font-weight:400;color:#1f1f24;transform:scaleX(0.952);-webkit-text-stroke:0.25px #1f1f24;">отверстия отводит воду с тротуара и проезжей</div><div class="t" style="left:545px;top:574.83px;font-size:8.7px;line-height:9.72px;font-weight:400;color:#1f1f24;transform:scaleX(0.952);-webkit-text-stroke:0.25px #1f1f24;">части. После очистки в фильтрационном слое</div><div class="t" style="left:545px;top:585.18px;font-size:8.7px;line-height:9.72px;font-weight:400;color:#1f1f24;transform:scaleX(0.952);-webkit-text-stroke:0.25px #1f1f24;">через дренажный слой и перфорированную</div><div class="t" style="left:545px;top:595.53px;font-size:8.7px;line-height:9.72px;font-weight:400;color:#1f1f24;transform:scaleX(0.952);-webkit-text-stroke:0.25px #1f1f24;">трубу отводит в выпуск ливневой канализации</div><div class="t" style="left:545px;top:605.88px;font-size:8.7px;line-height:9.72px;font-weight:400;color:#1f1f24;transform:scaleX(0.952);-webkit-text-stroke:0.25px #1f1f24;">или в инфильтрационные модули, или резервуар,</div><div class="t" style="left:545px;top:616.23px;font-size:8.7px;line-height:9.72px;font-weight:400;color:#1f1f24;transform:scaleX(0.952);-webkit-text-stroke:0.25px #1f1f24;">служащие для накопления воды.</div><div class="t" style="left:750.5px;top:479.25px;font-size:8.9px;line-height:9.94px;font-weight:700;color:#D49A36;transform:scaleX(0.95);-webkit-text-stroke:0.2px #D49A36;">3.</div><div class="t" style="left:761px;top:479.43px;font-size:8.7px;line-height:9.72px;font-weight:400;color:#1f1f24;transform:scaleX(0.952);-webkit-text-stroke:0.25px #1f1f24;">Дождевая и талая вода с тротуара</div><div class="t" style="left:761px;top:489.78px;font-size:8.7px;line-height:9.72px;font-weight:400;color:#1f1f24;transform:scaleX(0.952);-webkit-text-stroke:0.25px #1f1f24;">и газона через дренажное покрытие попадает</div><div class="t" style="left:761px;top:500.13px;font-size:8.7px;line-height:9.72px;font-weight:400;color:#1f1f24;transform:scaleX(0.952);-webkit-text-stroke:0.25px #1f1f24;">в инфильтрационные модули или резервуары,</div><div class="t" style="left:761px;top:510.48px;font-size:8.7px;line-height:9.72px;font-weight:400;color:#1f1f24;transform:scaleX(0.952);-webkit-text-stroke:0.25px #1f1f24;">служащие для накопления воды.</div><div class="t" style="left:14px;top:658.22px;font-size:8.6px;line-height:9.61px;font-weight:700;color:#111;">58</div><div class="t" style="left:68px;top:660.57px;font-size:6.0px;line-height:6.70px;font-weight:700;color:#222;transform:scaleX(0.92);">АТЛАС РЕШЕНИЙ</div><div class="t" style="left:251.5px;top:660.57px;font-size:6.0px;line-height:6.70px;font-weight:700;color:#222;">I</div><div class="t" style="left:261px;top:660.57px;font-size:6.0px;line-height:6.70px;font-weight:700;color:#222;transform:scaleX(0.92);">ДИЗАЙН-КОД. ЭЛЕМЕНТЫ И МАТЕРИАЛЫ ГОРОДСКОЙ СРЕДЫ</div><div class="t" style="left:534.5px;top:660.57px;font-size:6.0px;line-height:6.70px;font-weight:700;color:#222;">3.2</div><div class="t" style="left:551px;top:660.57px;font-size:6.0px;line-height:6.70px;font-weight:700;color:#222;transform:scaleX(0.92);">ИНФООБЗОРЫ, УПРАВЛЕНИЕ ПОВЕРХНОСТНЫМ СТОКОМ, ПОЛИВ И ИНЖЕНЕРНАЯ ИНФРАСТРУКТУРА</div><div class="t" style="left:947px;top:658.24px;font-size:8.8px;line-height:9.83px;font-weight:700;color:#111;transform:scaleX(0.98);">59</div>
</body></html>
